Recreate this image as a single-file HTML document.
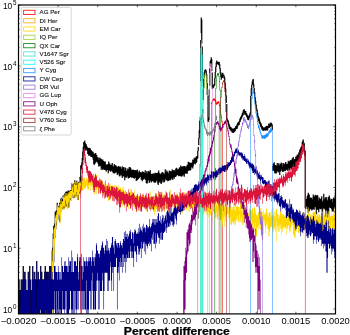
<!DOCTYPE html>
<html><head><meta charset="utf-8"><style>
html,body{margin:0;padding:0;background:#fff;}
body{width:350px;height:335px;overflow:hidden;}
svg{display:block;font-family:"Liberation Sans",sans-serif;}
text{will-change:transform;}
</style></head><body>
<svg width="350" height="335" viewBox="0 0 350 335">
<rect width="350" height="335" fill="#fff"/>
<defs><clipPath id="ax"><rect x="18.5" y="5" width="317" height="308.9"/></clipPath></defs>
<g clip-path="url(#ax)" fill="none">
<path fill="#000000" d="M18.15 279.4h1.2V315.0h-1.2zM18.65 290.1h1.2V315.0h-1.2zM19.15 290.1h1.2V315.0h-1.2zM19.65 290.1h1.2V315.0h-1.2zM20.15 308.4h1.2V315.0h-1.2zM20.65 279.4h1.2V315.0h-1.2zM21.15 290.1h1.2V315.0h-1.2zM21.65 290.1h1.2V315.0h-1.2zM22.15 279.4h1.2V315.0h-1.2zM22.65 265.9h1.2V315.0h-1.2zM23.15 290.1h1.2V315.0h-1.2zM23.65 279.4h1.2V315.0h-1.2zM24.15 271.8h1.2V315.0h-1.2zM24.65 279.4h1.2V315.0h-1.2zM25.15 279.4h1.2V309.6h-1.2zM25.65 290.1h1.2V315.0h-1.2zM26.15 308.4h1.2V315.0h-1.2zM26.65 290.1h1.2V315.0h-1.2zM27.15 290.1h1.2V315.0h-1.2zM27.65 271.8h1.2V315.0h-1.2zM28.15 279.4h1.2V309.6h-1.2zM28.65 279.4h1.2V315.0h-1.2zM29.15 265.9h1.2V315.0h-1.2zM29.65 279.4h1.2V309.6h-1.2zM30.15 308.4h1.2V315.0h-1.2zM30.65 290.1h1.2V315.0h-1.2zM31.15 290.1h1.2V315.0h-1.2zM31.65 279.4h1.2V309.6h-1.2zM32.15 265.9h1.2V315.0h-1.2zM32.65 279.4h1.2V315.0h-1.2zM33.15 279.4h1.2V315.0h-1.2zM33.65 279.4h1.2V315.0h-1.2zM34.15 271.8h1.2V315.0h-1.2zM34.65 308.4h1.2V315.0h-1.2zM35.15 279.4h1.2V315.0h-1.2zM35.65 308.4h1.2V315.0h-1.2zM36.15 261.1h1.2V309.6h-1.2zM36.65 279.4h1.2V309.6h-1.2zM37.15 290.1h1.2V315.0h-1.2zM37.65 271.8h1.2V315.0h-1.2zM38.15 279.4h1.2V315.0h-1.2zM38.65 279.4h1.2V315.0h-1.2zM39.15 279.4h1.2V309.6h-1.2zM39.65 290.1h1.2V309.6h-1.2zM40.15 265.9h1.2V309.6h-1.2zM40.65 279.4h1.2V315.0h-1.2zM41.15 271.8h1.2V309.6h-1.2zM41.65 279.4h1.2V315.0h-1.2zM42.15 279.4h1.2V315.0h-1.2zM42.65 279.4h1.2V315.0h-1.2zM43.15 279.4h1.2V309.6h-1.2zM43.65 279.4h1.2V315.0h-1.2zM44.15 271.8h1.2V315.0h-1.2zM44.65 265.9h1.2V309.6h-1.2zM45.15 271.8h1.2V309.6h-1.2zM45.65 271.8h1.2V315.0h-1.2zM46.15 279.4h1.2V309.6h-1.2zM46.65 271.8h1.2V309.6h-1.2zM47.15 271.8h1.2V315.0h-1.2zM47.65 271.8h1.2V315.0h-1.2zM48.15 279.4h1.2V309.6h-1.2zM48.65 279.4h1.2V315.0h-1.2zM49.15 265.9h1.2V309.6h-1.2zM49.65 271.8h1.2V315.0h-1.2zM50.15 265.9h1.2V309.6h-1.2zM50.65 279.4h1.2V315.0h-1.2zM51.15 290.1h1.2V315.0h-1.2zM51.65 250.4h1.2V309.6h-1.2zM52.15 247.6h1.2V267.1h-1.2zM52.65 233.6h1.2V251.6h-1.2zM53.15 225.7h1.2V262.3h-1.2zM53.65 225.7h1.2V236.4h-1.2zM54.15 223.5h1.2V238.1h-1.2zM54.65 211.7h1.2V226.9h-1.2zM55.15 215.3h1.2V229.3h-1.2zM55.65 210.4h1.2V225.7h-1.2zM56.15 211.7h1.2V220.7h-1.2zM56.65 202.7h1.2V216.5h-1.2zM57.15 206.2h1.2V219.9h-1.2zM57.65 206.2h1.2V212.3h-1.2zM58.15 205.7h1.2V214.3h-1.2zM58.65 207.4h1.2V214.3h-1.2zM59.15 203.1h1.2V221.7h-1.2zM59.65 202.2h1.2V216.5h-1.2zM60.15 199.5h1.2V212.3h-1.2zM60.65 197.8h1.2V211.0h-1.2zM61.15 202.7h1.2V208.0h-1.2zM61.65 199.5h1.2V205.8h-1.2zM62.15 199.1h1.2V209.2h-1.2zM62.65 195.2h1.2V207.4h-1.2zM63.15 196.3h1.2V205.3h-1.2zM63.65 196.7h1.2V208.6h-1.2zM64.15 193.4h1.2V204.8h-1.2zM64.65 195.2h1.2V199.9h-1.2zM65.15 191.8h1.2V206.4h-1.2zM65.65 194.8h1.2V206.4h-1.2zM66.15 191.5h1.2V202.0h-1.2zM66.65 194.8h1.2V206.9h-1.2zM67.15 191.5h1.2V207.4h-1.2zM67.65 190.6h1.2V198.6h-1.2zM68.15 192.1h1.2V207.4h-1.2zM68.65 191.5h1.2V197.1h-1.2zM69.15 192.1h1.2V198.6h-1.2zM69.65 190.0h1.2V196.4h-1.2zM70.15 190.3h1.2V199.9h-1.2zM70.65 190.6h1.2V200.3h-1.2zM71.15 183.4h1.2V196.0h-1.2zM71.65 187.1h1.2V195.0h-1.2zM72.15 186.1h1.2V194.3h-1.2zM72.65 184.4h1.2V197.9h-1.2zM73.15 190.9h1.2V195.0h-1.2zM73.65 183.0h1.2V197.9h-1.2zM74.15 180.2h1.2V193.0h-1.2zM74.65 183.9h1.2V193.3h-1.2zM75.15 183.7h1.2V196.4h-1.2zM75.65 184.4h1.2V192.7h-1.2zM76.15 180.8h1.2V191.5h-1.2zM76.65 183.2h1.2V195.7h-1.2zM77.15 188.0h1.2V195.3h-1.2zM77.65 182.5h1.2V199.9h-1.2zM78.15 182.5h1.2V194.6h-1.2zM78.65 181.4h1.2V190.9h-1.2zM79.15 177.3h1.2V190.9h-1.2zM79.65 181.4h1.2V192.7h-1.2zM80.15 165.2h1.2V188.6h-1.2zM80.65 165.4h1.2V169.5h-1.2zM81.15 162.4h1.2V168.0h-1.2zM81.65 157.9h1.2V165.9h-1.2zM82.15 151.4h1.2V160.3h-1.2zM82.65 146.9h1.2V155.7h-1.2zM83.15 142.1h1.2V151.2h-1.2zM83.65 142.7h1.2V147.1h-1.2zM84.15 140.5h1.2V148.3h-1.2zM84.65 143.0h1.2V150.8h-1.2zM85.15 144.4h1.2V147.6h-1.2zM85.65 144.3h1.2V149.3h-1.2zM86.15 145.9h1.2V150.3h-1.2zM86.65 147.2h1.2V150.7h-1.2zM87.15 148.1h1.2V154.1h-1.2zM87.65 149.5h1.2V152.6h-1.2zM88.15 148.1h1.2V155.8h-1.2zM88.65 147.8h1.2V155.7h-1.2zM89.15 149.5h1.2V153.1h-1.2zM89.65 148.2h1.2V154.8h-1.2zM90.15 151.2h1.2V156.7h-1.2zM90.65 149.9h1.2V154.9h-1.2zM91.15 151.3h1.2V157.1h-1.2zM91.65 152.6h1.2V156.2h-1.2zM92.15 151.6h1.2V157.8h-1.2zM92.65 152.3h1.2V159.7h-1.2zM93.15 156.1h1.2V163.9h-1.2zM93.65 153.8h1.2V164.9h-1.2zM94.15 154.7h1.2V158.4h-1.2zM94.65 153.4h1.2V163.4h-1.2zM95.15 152.9h1.2V160.4h-1.2zM95.65 155.1h1.2V161.7h-1.2zM96.15 154.9h1.2V161.8h-1.2zM96.65 157.2h1.2V162.6h-1.2zM97.15 157.5h1.2V161.7h-1.2zM97.65 157.5h1.2V163.9h-1.2zM98.15 160.8h1.2V166.4h-1.2zM98.65 160.1h1.2V164.5h-1.2zM99.15 157.5h1.2V166.3h-1.2zM99.65 158.2h1.2V163.9h-1.2zM100.15 158.7h1.2V165.6h-1.2zM100.65 159.0h1.2V169.7h-1.2zM101.15 159.7h1.2V164.8h-1.2zM101.65 161.2h1.2V167.8h-1.2zM102.15 159.6h1.2V169.9h-1.2zM102.65 161.3h1.2V169.0h-1.2zM103.15 161.1h1.2V166.6h-1.2zM103.65 162.0h1.2V169.4h-1.2zM104.15 164.8h1.2V169.9h-1.2zM104.65 161.4h1.2V169.8h-1.2zM105.15 165.4h1.2V170.2h-1.2zM105.65 164.8h1.2V171.6h-1.2zM106.15 164.4h1.2V169.4h-1.2zM106.65 164.2h1.2V169.9h-1.2zM107.15 164.2h1.2V168.5h-1.2zM107.65 164.7h1.2V173.2h-1.2zM108.15 161.5h1.2V170.1h-1.2zM108.65 165.2h1.2V170.5h-1.2zM109.15 163.5h1.2V170.1h-1.2zM109.65 166.2h1.2V171.4h-1.2zM110.15 164.8h1.2V171.8h-1.2zM110.65 164.8h1.2V170.5h-1.2zM111.15 164.7h1.2V168.9h-1.2zM111.65 162.9h1.2V171.0h-1.2zM112.15 166.9h1.2V172.0h-1.2zM112.65 166.3h1.2V173.3h-1.2zM113.15 166.7h1.2V172.4h-1.2zM113.65 164.0h1.2V173.6h-1.2zM114.15 165.6h1.2V173.2h-1.2zM114.65 166.9h1.2V171.4h-1.2zM115.15 165.0h1.2V172.7h-1.2zM115.65 166.2h1.2V170.2h-1.2zM116.15 166.8h1.2V171.7h-1.2zM116.65 167.2h1.2V175.0h-1.2zM117.15 167.2h1.2V173.9h-1.2zM117.65 166.0h1.2V173.5h-1.2zM118.15 167.4h1.2V172.6h-1.2zM118.65 166.6h1.2V175.7h-1.2zM119.15 171.5h1.2V176.5h-1.2zM119.65 166.6h1.2V175.5h-1.2zM120.15 167.6h1.2V174.2h-1.2zM120.65 170.4h1.2V174.2h-1.2zM121.15 169.0h1.2V175.7h-1.2zM121.65 166.3h1.2V178.1h-1.2zM122.15 167.7h1.2V174.2h-1.2zM122.65 167.7h1.2V176.2h-1.2zM123.15 166.9h1.2V176.5h-1.2zM123.65 170.4h1.2V176.0h-1.2zM124.15 170.9h1.2V180.2h-1.2zM124.65 167.6h1.2V177.2h-1.2zM125.15 168.1h1.2V177.2h-1.2zM125.65 171.5h1.2V177.7h-1.2zM126.15 170.8h1.2V177.2h-1.2zM126.65 170.4h1.2V175.7h-1.2zM127.15 168.6h1.2V175.8h-1.2zM127.65 169.9h1.2V178.6h-1.2zM128.15 169.3h1.2V177.9h-1.2zM128.65 166.9h1.2V177.9h-1.2zM129.15 171.2h1.2V177.2h-1.2zM129.65 167.3h1.2V176.9h-1.2zM130.15 168.3h1.2V177.2h-1.2zM130.65 169.5h1.2V175.7h-1.2zM131.15 170.5h1.2V177.7h-1.2zM131.65 169.9h1.2V177.6h-1.2zM132.15 171.1h1.2V176.0h-1.2zM132.65 169.4h1.2V177.9h-1.2zM133.15 170.6h1.2V177.7h-1.2zM133.65 169.9h1.2V178.8h-1.2zM134.15 170.6h1.2V177.2h-1.2zM134.65 170.5h1.2V177.7h-1.2zM135.15 170.1h1.2V177.6h-1.2zM135.65 173.7h1.2V181.0h-1.2zM136.15 170.8h1.2V180.0h-1.2zM136.65 169.4h1.2V180.2h-1.2zM137.15 171.4h1.2V177.2h-1.2zM137.65 172.9h1.2V179.2h-1.2zM138.15 173.0h1.2V178.5h-1.2zM138.65 170.5h1.2V178.1h-1.2zM139.15 172.6h1.2V177.0h-1.2zM139.65 172.0h1.2V176.7h-1.2zM140.15 172.4h1.2V177.0h-1.2zM140.65 173.3h1.2V179.8h-1.2zM141.15 172.6h1.2V176.2h-1.2zM141.65 171.4h1.2V181.2h-1.2zM142.15 171.8h1.2V175.2h-1.2zM142.65 171.7h1.2V179.8h-1.2zM143.15 172.3h1.2V179.0h-1.2zM143.65 172.7h1.2V178.3h-1.2zM144.15 173.2h1.2V178.1h-1.2zM144.65 170.2h1.2V179.8h-1.2zM145.15 172.9h1.2V179.0h-1.2zM145.65 172.9h1.2V183.0h-1.2zM146.15 171.2h1.2V183.5h-1.2zM146.65 174.5h1.2V183.5h-1.2zM147.15 173.2h1.2V180.8h-1.2zM147.65 170.9h1.2V179.6h-1.2zM148.15 174.0h1.2V179.0h-1.2zM148.65 171.7h1.2V183.0h-1.2zM149.15 171.4h1.2V181.4h-1.2zM149.65 169.9h1.2V180.4h-1.2zM150.15 174.0h1.2V177.9h-1.2zM150.65 175.0h1.2V182.6h-1.2zM151.15 173.8h1.2V180.0h-1.2zM151.65 174.0h1.2V181.2h-1.2zM152.15 174.1h1.2V181.0h-1.2zM152.65 173.3h1.2V181.2h-1.2zM153.15 177.3h1.2V181.8h-1.2zM153.65 174.6h1.2V182.8h-1.2zM154.15 173.3h1.2V182.8h-1.2zM154.65 172.7h1.2V179.6h-1.2zM155.15 173.8h1.2V182.6h-1.2zM155.65 173.5h1.2V179.8h-1.2zM156.15 173.0h1.2V180.8h-1.2zM156.65 173.0h1.2V179.2h-1.2zM157.15 174.1h1.2V183.5h-1.2zM157.65 172.0h1.2V184.9h-1.2zM158.15 170.4h1.2V181.0h-1.2zM158.65 173.3h1.2V182.6h-1.2zM159.15 173.2h1.2V181.4h-1.2zM159.65 174.3h1.2V180.4h-1.2zM160.15 176.2h1.2V183.3h-1.2zM160.65 173.7h1.2V183.9h-1.2zM161.15 172.4h1.2V182.8h-1.2zM161.65 175.1h1.2V181.4h-1.2zM162.15 172.0h1.2V179.2h-1.2zM162.65 173.0h1.2V179.8h-1.2zM163.15 175.1h1.2V182.4h-1.2zM163.65 174.6h1.2V182.0h-1.2zM164.15 173.2h1.2V181.2h-1.2zM164.65 169.3h1.2V178.1h-1.2zM165.15 172.3h1.2V178.5h-1.2zM165.65 173.3h1.2V180.2h-1.2zM166.15 170.5h1.2V180.2h-1.2zM166.65 171.5h1.2V179.0h-1.2zM167.15 172.6h1.2V181.2h-1.2zM167.65 173.7h1.2V181.0h-1.2zM168.15 173.5h1.2V178.3h-1.2zM168.65 170.4h1.2V180.4h-1.2zM169.15 171.5h1.2V177.9h-1.2zM169.65 171.7h1.2V179.4h-1.2zM170.15 170.9h1.2V180.2h-1.2zM170.65 172.9h1.2V177.4h-1.2zM171.15 171.4h1.2V178.6h-1.2zM171.65 169.3h1.2V178.6h-1.2zM172.15 170.2h1.2V180.0h-1.2zM172.65 172.3h1.2V177.6h-1.2zM173.15 170.5h1.2V176.3h-1.2zM173.65 169.9h1.2V178.8h-1.2zM174.15 172.7h1.2V176.7h-1.2zM174.65 171.2h1.2V175.8h-1.2zM175.15 168.6h1.2V176.9h-1.2zM175.65 171.8h1.2V176.0h-1.2zM176.15 167.7h1.2V175.3h-1.2zM176.65 170.6h1.2V174.9h-1.2zM177.15 169.3h1.2V172.9h-1.2zM177.65 169.8h1.2V175.2h-1.2zM178.15 169.1h1.2V176.2h-1.2zM178.65 168.3h1.2V175.8h-1.2zM179.15 167.2h1.2V173.2h-1.2zM179.65 167.9h1.2V176.2h-1.2zM180.15 165.6h1.2V174.1h-1.2zM180.65 166.9h1.2V175.7h-1.2zM181.15 167.1h1.2V176.7h-1.2zM181.65 166.3h1.2V174.2h-1.2zM182.15 167.1h1.2V175.7h-1.2zM182.65 169.1h1.2V172.7h-1.2zM183.15 166.0h1.2V174.4h-1.2zM183.65 169.5h1.2V176.7h-1.2zM184.15 166.1h1.2V173.3h-1.2zM184.65 167.9h1.2V173.5h-1.2zM185.15 167.3h1.2V173.8h-1.2zM185.65 166.6h1.2V173.5h-1.2zM186.15 166.2h1.2V171.6h-1.2zM186.65 164.8h1.2V173.8h-1.2zM187.15 166.9h1.2V170.9h-1.2zM187.65 161.7h1.2V171.1h-1.2zM188.15 162.5h1.2V168.5h-1.2zM188.65 162.2h1.2V170.5h-1.2zM189.15 163.8h1.2V170.6h-1.2zM189.65 162.7h1.2V167.9h-1.2zM190.15 163.9h1.2V170.3h-1.2zM190.65 162.9h1.2V167.5h-1.2zM191.15 162.4h1.2V167.3h-1.2zM191.65 163.6h1.2V166.8h-1.2zM192.15 159.6h1.2V168.4h-1.2zM192.65 159.9h1.2V166.3h-1.2zM193.15 160.1h1.2V163.7h-1.2zM193.65 157.8h1.2V163.6h-1.2zM194.15 158.7h1.2V163.4h-1.2zM194.65 158.2h1.2V164.4h-1.2zM195.15 157.5h1.2V162.3h-1.2zM195.65 156.4h1.2V163.1h-1.2zM196.15 156.2h1.2V162.1h-1.2zM196.65 156.0h1.2V159.0h-1.2zM197.15 150.7h1.2V158.3h-1.2zM197.65 146.9h1.2V150.8h-1.2zM198.15 137.9h1.2V145.2h-1.2zM198.65 130.2h1.2V138.6h-1.2zM199.15 120.7h1.2V132.8h-1.2zM199.65 116.7h1.2V132.9h-1.2zM200.15 40.0h1.2V81.3h-1.2zM200.65 17.6h1.2V33.3h-1.2zM201.15 19.6h1.2V43.7h-1.2zM201.65 46.5h1.2V81.2h-1.2zM202.15 109.0h1.2V112.9h-1.2zM202.65 88.7h1.2V100.1h-1.2zM203.15 78.4h1.2V88.4h-1.2zM203.65 72.3h1.2V78.0h-1.2zM204.15 70.0h1.2V72.9h-1.2zM204.65 69.7h1.2V71.4h-1.2zM205.15 69.3h1.2V71.4h-1.2zM205.65 70.7h1.2V74.4h-1.2zM206.15 74.3h1.2V82.7h-1.2zM206.65 82.9h1.2V94.9h-1.2zM207.15 95.6h1.2V121.2h-1.2zM207.65 117.9h1.2V122.1h-1.2zM208.15 117.2h1.2V120.2h-1.2zM208.65 89.4h1.2V120.3h-1.2zM209.15 68.2h1.2V85.8h-1.2zM209.65 60.9h1.2V66.7h-1.2zM210.15 60.0h1.2V61.8h-1.2zM210.65 57.2h1.2V62.9h-1.2zM211.15 59.3h1.2V70.9h-1.2zM211.65 72.4h1.2V88.8h-1.2zM212.15 86.6h1.2V88.7h-1.2zM212.65 85.6h1.2V87.8h-1.2zM213.15 84.4h1.2V87.4h-1.2zM213.65 83.9h1.2V86.1h-1.2zM214.15 78.1h1.2V85.2h-1.2zM214.65 72.0h1.2V78.3h-1.2zM215.15 66.6h1.2V72.3h-1.2zM215.65 62.4h1.2V66.9h-1.2zM216.15 60.4h1.2V62.8h-1.2zM216.65 62.0h1.2V64.5h-1.2zM217.15 61.8h1.2V63.5h-1.2zM217.65 61.8h1.2V63.9h-1.2zM218.15 61.8h1.2V65.2h-1.2zM218.65 62.0h1.2V65.6h-1.2zM219.15 64.3h1.2V68.7h-1.2zM219.65 68.3h1.2V73.5h-1.2zM220.15 72.6h1.2V76.8h-1.2zM220.65 76.5h1.2V79.8h-1.2zM221.15 74.9h1.2V77.8h-1.2zM221.65 72.7h1.2V75.5h-1.2zM222.15 72.8h1.2V77.9h-1.2zM222.65 74.5h1.2V76.5h-1.2zM223.15 74.4h1.2V76.4h-1.2zM223.65 76.0h1.2V79.0h-1.2zM224.15 77.8h1.2V83.6h-1.2zM224.65 82.7h1.2V88.9h-1.2zM225.15 88.5h1.2V96.3h-1.2zM225.65 95.6h1.2V103.1h-1.2zM226.15 104.1h1.2V120.4h-1.2zM226.65 118.4h1.2V121.2h-1.2zM227.15 120.1h1.2V122.5h-1.2zM227.65 120.6h1.2V124.7h-1.2zM228.15 122.8h1.2V126.4h-1.2zM228.65 124.6h1.2V129.0h-1.2zM229.15 125.4h1.2V128.9h-1.2zM229.65 126.9h1.2V130.6h-1.2zM230.15 127.0h1.2V130.5h-1.2zM230.65 127.6h1.2V131.5h-1.2zM231.15 128.2h1.2V131.4h-1.2zM231.65 129.0h1.2V132.8h-1.2zM232.15 128.6h1.2V132.2h-1.2zM232.65 129.2h1.2V132.9h-1.2zM233.15 128.6h1.2V131.6h-1.2zM233.65 128.4h1.2V132.3h-1.2zM234.15 128.1h1.2V131.5h-1.2zM234.65 127.6h1.2V131.1h-1.2zM235.15 125.9h1.2V129.5h-1.2zM235.65 126.7h1.2V129.1h-1.2zM236.15 125.3h1.2V128.6h-1.2zM236.65 123.7h1.2V128.8h-1.2zM237.15 122.8h1.2V126.5h-1.2zM237.65 122.6h1.2V125.0h-1.2zM238.15 121.8h1.2V125.3h-1.2zM238.65 121.2h1.2V124.8h-1.2zM239.15 119.3h1.2V121.9h-1.2zM239.65 118.1h1.2V121.8h-1.2zM240.15 116.7h1.2V120.1h-1.2zM240.65 116.2h1.2V118.9h-1.2zM241.15 114.9h1.2V118.0h-1.2zM241.65 113.2h1.2V116.8h-1.2zM242.15 112.4h1.2V115.4h-1.2zM242.65 110.6h1.2V115.2h-1.2zM243.15 109.5h1.2V112.2h-1.2zM243.65 109.3h1.2V112.6h-1.2zM244.15 110.8h1.2V114.7h-1.2zM244.65 111.6h1.2V114.8h-1.2zM245.15 111.1h1.2V114.4h-1.2zM245.65 113.1h1.2V115.8h-1.2zM246.15 113.6h1.2V117.0h-1.2zM246.65 114.9h1.2V118.3h-1.2zM247.15 115.3h1.2V119.7h-1.2zM247.65 117.4h1.2V120.2h-1.2zM248.15 116.3h1.2V120.2h-1.2zM248.65 115.5h1.2V118.3h-1.2zM249.15 113.4h1.2V117.3h-1.2zM249.65 112.4h1.2V115.7h-1.2zM250.15 96.0h1.2V113.2h-1.2zM250.65 88.6h1.2V96.1h-1.2zM251.15 84.7h1.2V89.8h-1.2zM251.65 81.4h1.2V85.0h-1.2zM252.15 79.7h1.2V82.7h-1.2zM252.65 79.1h1.2V84.4h-1.2zM253.15 83.7h1.2V87.8h-1.2zM253.65 87.9h1.2V92.4h-1.2zM254.15 92.3h1.2V97.7h-1.2zM254.65 97.2h1.2V102.0h-1.2zM255.15 100.9h1.2V106.2h-1.2zM255.65 104.6h1.2V108.4h-1.2zM256.15 108.2h1.2V111.3h-1.2zM256.65 110.1h1.2V115.2h-1.2zM257.15 113.2h1.2V117.7h-1.2zM257.65 116.1h1.2V120.4h-1.2zM258.15 117.6h1.2V120.9h-1.2zM258.65 118.4h1.2V123.2h-1.2zM259.15 120.4h1.2V124.0h-1.2zM259.65 121.9h1.2V125.7h-1.2zM260.15 124.5h1.2V127.2h-1.2zM260.65 123.4h1.2V127.2h-1.2zM261.15 125.8h1.2V129.4h-1.2zM261.65 125.9h1.2V129.4h-1.2zM262.15 127.0h1.2V130.4h-1.2zM262.65 127.5h1.2V130.9h-1.2zM263.15 127.4h1.2V130.4h-1.2zM263.65 127.5h1.2V130.5h-1.2zM264.15 127.4h1.2V129.6h-1.2zM264.65 127.0h1.2V130.8h-1.2zM265.15 126.7h1.2V130.5h-1.2zM265.65 126.1h1.2V130.0h-1.2zM266.15 126.4h1.2V129.8h-1.2zM266.65 125.8h1.2V130.8h-1.2zM267.15 126.5h1.2V129.7h-1.2zM267.65 125.9h1.2V128.3h-1.2zM268.15 123.5h1.2V127.4h-1.2zM268.65 125.0h1.2V128.0h-1.2zM269.15 123.4h1.2V126.8h-1.2zM269.65 123.4h1.2V127.2h-1.2zM270.15 122.5h1.2V126.7h-1.2zM270.65 122.7h1.2V125.5h-1.2zM271.15 123.7h1.2V125.8h-1.2zM271.65 124.6h1.2V129.9h-1.2zM272.15 166.1h1.2V170.3h-1.2zM272.65 163.6h1.2V171.0h-1.2zM273.15 165.2h1.2V170.5h-1.2zM273.65 162.3h1.2V169.3h-1.2zM274.15 166.1h1.2V173.0h-1.2zM274.65 164.9h1.2V173.6h-1.2zM275.15 164.9h1.2V171.4h-1.2zM275.65 166.0h1.2V173.5h-1.2zM276.15 166.0h1.2V170.5h-1.2zM276.65 163.0h1.2V171.4h-1.2zM277.15 165.8h1.2V170.2h-1.2zM277.65 165.6h1.2V172.6h-1.2zM278.15 163.2h1.2V171.4h-1.2zM278.65 165.5h1.2V171.3h-1.2zM279.15 165.4h1.2V174.9h-1.2zM279.65 163.8h1.2V169.7h-1.2zM280.15 165.0h1.2V171.6h-1.2zM280.65 162.4h1.2V169.3h-1.2zM281.15 163.6h1.2V168.6h-1.2zM281.65 166.3h1.2V170.9h-1.2zM282.15 166.4h1.2V172.0h-1.2zM282.65 163.1h1.2V170.6h-1.2zM283.15 164.1h1.2V171.6h-1.2zM283.65 164.4h1.2V168.9h-1.2zM284.15 165.8h1.2V170.5h-1.2zM284.65 162.9h1.2V170.9h-1.2zM285.15 161.9h1.2V170.1h-1.2zM285.65 163.9h1.2V169.9h-1.2zM286.15 164.2h1.2V169.5h-1.2zM286.65 163.7h1.2V169.1h-1.2zM287.15 163.9h1.2V171.0h-1.2zM287.65 160.8h1.2V167.4h-1.2zM288.15 162.3h1.2V168.4h-1.2zM288.65 163.3h1.2V170.5h-1.2zM289.15 160.7h1.2V168.6h-1.2zM289.65 162.5h1.2V167.8h-1.2zM290.15 160.1h1.2V167.6h-1.2zM290.65 160.2h1.2V169.5h-1.2zM291.15 163.2h1.2V169.1h-1.2zM291.65 158.2h1.2V167.4h-1.2zM292.15 160.6h1.2V167.4h-1.2zM292.65 157.0h1.2V166.6h-1.2zM293.15 159.7h1.2V165.2h-1.2zM293.65 159.4h1.2V167.0h-1.2zM294.15 159.1h1.2V166.3h-1.2zM294.65 162.2h1.2V169.3h-1.2zM295.15 156.7h1.2V163.9h-1.2zM295.65 156.6h1.2V164.5h-1.2zM296.15 156.3h1.2V163.8h-1.2zM296.65 154.4h1.2V163.3h-1.2zM297.15 158.3h1.2V161.7h-1.2zM297.65 155.5h1.2V161.6h-1.2zM298.15 152.6h1.2V159.1h-1.2zM298.65 152.5h1.2V160.0h-1.2zM299.15 149.6h1.2V157.9h-1.2zM299.65 150.2h1.2V157.2h-1.2zM300.15 147.6h1.2V157.6h-1.2zM300.65 147.2h1.2V154.4h-1.2zM301.15 145.7h1.2V154.1h-1.2zM301.65 141.9h1.2V150.7h-1.2zM302.15 140.8h1.2V150.0h-1.2zM302.65 139.4h1.2V148.0h-1.2zM303.15 142.4h1.2V149.7h-1.2zM303.65 143.3h1.2V150.0h-1.2zM304.15 149.5h1.2V156.2h-1.2zM304.65 150.9h1.2V208.0h-1.2zM305.15 198.7h1.2V209.2h-1.2zM305.65 199.1h1.2V206.9h-1.2zM306.15 200.4h1.2V205.8h-1.2zM306.65 196.3h1.2V203.9h-1.2zM307.15 195.2h1.2V209.2h-1.2zM307.65 192.8h1.2V212.9h-1.2zM308.15 197.1h1.2V211.6h-1.2zM308.65 194.5h1.2V211.0h-1.2zM309.15 198.2h1.2V209.2h-1.2zM309.65 200.4h1.2V209.2h-1.2zM310.15 197.4h1.2V203.9h-1.2zM310.65 199.9h1.2V209.2h-1.2zM311.15 197.8h1.2V210.4h-1.2zM311.65 199.5h1.2V209.7h-1.2zM312.15 201.3h1.2V209.2h-1.2zM312.65 194.5h1.2V209.2h-1.2zM313.15 197.1h1.2V207.4h-1.2zM313.65 196.3h1.2V209.7h-1.2zM314.15 199.9h1.2V205.8h-1.2zM314.65 194.8h1.2V206.9h-1.2zM315.15 195.2h1.2V208.6h-1.2zM315.65 202.2h1.2V214.3h-1.2zM316.15 195.2h1.2V208.6h-1.2zM316.65 200.8h1.2V209.7h-1.2zM317.15 195.2h1.2V208.0h-1.2zM317.65 200.4h1.2V209.7h-1.2zM318.15 200.4h1.2V212.3h-1.2zM318.65 197.4h1.2V208.6h-1.2zM319.15 200.8h1.2V206.4h-1.2zM319.65 199.1h1.2V209.2h-1.2zM320.15 199.1h1.2V209.2h-1.2zM320.65 198.2h1.2V208.0h-1.2zM321.15 196.3h1.2V208.6h-1.2zM321.65 201.7h1.2V212.3h-1.2zM322.15 201.7h1.2V209.2h-1.2zM322.65 200.4h1.2V209.7h-1.2zM323.15 193.8h1.2V208.6h-1.2zM323.65 199.5h1.2V207.4h-1.2zM324.15 199.9h1.2V209.2h-1.2zM324.65 197.4h1.2V206.9h-1.2zM325.15 200.4h1.2V217.3h-1.2zM325.65 197.1h1.2V205.3h-1.2zM326.15 199.5h1.2V210.4h-1.2zM326.65 200.4h1.2V206.4h-1.2zM327.15 201.3h1.2V218.1h-1.2zM327.65 197.1h1.2V208.0h-1.2zM328.15 200.8h1.2V214.3h-1.2zM328.65 195.5h1.2V205.3h-1.2zM329.15 197.8h1.2V207.4h-1.2zM329.65 199.5h1.2V208.0h-1.2zM330.15 199.5h1.2V208.0h-1.2zM330.65 200.8h1.2V208.6h-1.2zM331.15 198.7h1.2V209.2h-1.2zM331.65 202.2h1.2V211.6h-1.2zM332.15 202.2h1.2V209.2h-1.2zM332.65 198.7h1.2V211.6h-1.2zM333.15 197.4h1.2V209.2h-1.2zM333.65 198.7h1.2V206.9h-1.2zM334.15 199.1h1.2V206.4h-1.2zM334.65 194.8h1.2V208.0h-1.2z"/>
<path fill="#ff0000" d="M210.95 102.7h.6V104.4h-.6zM211.45 101.7h.6V103.8h-.6zM211.95 100.3h.6V103.0h-.6zM212.45 99.2h.6V101.2h-.6zM212.95 98.7h.6V101.0h-.6zM213.45 98.2h.6V100.3h-.6zM213.95 98.2h.6V100.7h-.6zM214.45 98.5h.6V100.7h-.6zM214.95 99.2h.6V101.8h-.6zM215.45 100.3h.6V103.9h-.6zM215.95 101.2h.6V104.4h-.6zM216.45 103.0h.6V105.1h-.6zM216.95 102.0h.6V104.2h-.6zM217.45 101.5h.6V103.8h-.6zM217.95 101.6h.6V103.8h-.6zM218.45 101.2h.6V103.3h-.6zM218.95 102.5h.6V106.0h-.6zM219.45 104.5h.6V108.7h-.6zM219.95 107.9h.6V112.4h-.6zM220.45 111.6h.6V116.1h-.6zM220.95 114.4h.6V117.9h-.6zM221.45 117.1h.6V122.4h-.6zM221.95 120.5h.6V125.7h-.6zM222.45 123.7h.6V125.7h-.6zM211.03 104.0h0.55V315.0h-0.55zM222.32 124.1h0.55V315.0h-0.55z"/>
<path fill="#ffa500" d="M200.45 81.9h.6V82.7h-.6zM200.95 44.3h.6V82.7h-.6zM201.45 44.3h.6V87.9h-.6zM200.62 82.3h0.55V315.0h-0.55zM201.62 87.5h0.55V315.0h-0.55z"/>
<path fill="#ffd700" d="M51.95 261.3h.6V262.1h-.6zM52.45 250.6h.6V291.1h-.6zM52.95 239.0h.6V272.8h-.6zM53.45 229.5h.6V262.1h-.6zM53.95 228.3h.6V254.5h-.6zM54.45 227.0h.6V243.8h-.6zM54.95 215.5h.6V236.2h-.6zM55.45 218.0h.6V230.3h-.6zM55.95 211.9h.6V227.8h-.6zM56.45 214.8h.6V221.5h-.6zM56.95 204.3h.6V220.5h-.6zM57.45 206.4h.6V221.5h-.6zM57.95 207.6h.6V214.1h-.6zM58.45 206.4h.6V214.8h-.6zM58.95 207.6h.6V215.6h-.6zM59.45 204.3h.6V223.4h-.6zM59.95 204.3h.6V223.4h-.6zM60.45 200.6h.6V217.9h-.6zM60.95 198.4h.6V212.1h-.6zM61.45 204.3h.6V212.1h-.6zM61.95 201.0h.6V207.2h-.6zM62.45 201.5h.6V209.5h-.6zM62.95 195.7h.6V209.5h-.6zM63.45 197.3h.6V206.2h-.6zM63.95 197.3h.6V209.5h-.6zM64.45 194.7h.6V206.2h-.6zM64.95 196.1h.6V200.5h-.6zM65.45 193.0h.6V207.8h-.6zM65.95 195.7h.6V208.4h-.6zM66.45 193.0h.6V204.1h-.6zM66.95 195.4h.6V208.4h-.6zM67.45 193.3h.6V209.0h-.6zM67.95 192.0h.6V202.3h-.6zM68.45 194.0h.6V207.8h-.6zM68.95 192.3h.6V198.4h-.6zM69.45 192.3h.6V199.2h-.6zM69.95 190.8h.6V198.1h-.6zM70.45 191.1h.6V201.4h-.6zM70.95 191.1h.6V200.9h-.6zM71.45 184.1h.6V200.9h-.6zM71.95 185.8h.6V196.2h-.6zM72.45 187.3h.6V194.8h-.6zM72.95 185.0h.6V199.2h-.6zM73.45 192.3h.6V196.5h-.6zM73.95 183.9h.6V198.4h-.6zM74.45 181.4h.6V194.8h-.6zM74.95 184.8h.6V194.8h-.6zM75.45 184.6h.6V198.1h-.6zM75.95 185.0h.6V198.1h-.6zM76.45 181.6h.6V191.9h-.6zM76.95 181.6h.6V195.8h-.6zM77.45 189.6h.6V195.8h-.6zM77.95 183.6h.6V200.5h-.6zM78.45 182.9h.6V195.1h-.6zM78.95 182.7h.6V191.9h-.6zM79.45 178.2h.6V191.3h-.6zM79.95 183.2h.6V193.8h-.6zM80.45 181.8h.6V189.8h-.6zM80.95 180.6h.6V189.8h-.6zM81.45 181.2h.6V192.5h-.6zM81.95 182.0h.6V190.1h-.6zM82.45 177.8h.6V190.7h-.6zM82.95 177.8h.6V190.4h-.6zM83.45 179.2h.6V187.6h-.6zM83.95 177.6h.6V188.4h-.6zM84.45 177.8h.6V188.4h-.6zM84.95 181.6h.6V188.7h-.6zM85.45 179.0h.6V187.4h-.6zM85.95 179.4h.6V185.6h-.6zM86.45 177.5h.6V186.1h-.6zM86.95 179.4h.6V187.4h-.6zM87.45 178.8h.6V189.5h-.6zM87.95 178.0h.6V189.5h-.6zM88.45 178.8h.6V189.5h-.6zM88.95 176.7h.6V184.4h-.6zM89.45 177.8h.6V185.6h-.6zM89.95 176.4h.6V184.9h-.6zM90.45 179.6h.6V191.0h-.6zM90.95 174.8h.6V187.1h-.6zM91.45 178.4h.6V185.4h-.6zM91.95 178.4h.6V184.9h-.6zM92.45 179.0h.6V190.1h-.6zM92.95 181.6h.6V190.1h-.6zM93.45 181.6h.6V191.9h-.6zM93.95 181.4h.6V195.1h-.6zM94.45 175.2h.6V188.7h-.6zM94.95 174.2h.6V193.8h-.6zM95.45 179.2h.6V187.6h-.6zM95.95 174.7h.6V189.8h-.6zM96.45 174.7h.6V194.1h-.6zM96.95 181.0h.6V189.5h-.6zM97.45 180.2h.6V187.6h-.6zM97.95 180.4h.6V189.8h-.6zM98.45 183.9h.6V192.8h-.6zM98.95 180.6h.6V192.5h-.6zM99.45 176.9h.6V192.5h-.6zM99.95 179.6h.6V187.1h-.6zM100.45 180.8h.6V192.2h-.6zM100.95 182.0h.6V193.1h-.6zM101.45 180.4h.6V189.8h-.6zM101.95 181.2h.6V189.2h-.6zM102.45 181.2h.6V193.8h-.6zM102.95 183.9h.6V192.8h-.6zM103.45 183.9h.6V189.0h-.6zM103.95 183.2h.6V194.8h-.6zM104.45 185.0h.6V191.0h-.6zM104.95 186.3h.6V195.1h-.6zM105.45 186.6h.6V195.1h-.6zM105.95 186.0h.6V194.8h-.6zM106.45 184.8h.6V194.8h-.6zM106.95 184.3h.6V191.3h-.6zM107.45 185.8h.6V192.8h-.6zM107.95 185.0h.6V200.9h-.6zM108.45 188.4h.6V200.9h-.6zM108.95 184.1h.6V197.7h-.6zM109.45 185.3h.6V193.1h-.6zM109.95 186.6h.6V196.5h-.6zM110.45 184.1h.6V196.5h-.6zM110.95 185.8h.6V198.1h-.6zM111.45 186.0h.6V196.2h-.6zM111.95 185.5h.6V200.1h-.6zM112.45 185.5h.6V195.8h-.6zM112.95 186.6h.6V197.3h-.6zM113.45 186.0h.6V193.4h-.6zM113.95 185.0h.6V195.1h-.6zM114.45 190.5h.6V197.3h-.6zM114.95 188.2h.6V194.4h-.6zM115.45 185.0h.6V198.1h-.6zM115.95 186.0h.6V196.2h-.6zM116.45 186.6h.6V196.2h-.6zM116.95 186.6h.6V195.1h-.6zM117.45 186.6h.6V200.1h-.6zM117.95 185.8h.6V194.4h-.6zM118.45 188.2h.6V200.1h-.6zM118.95 189.9h.6V202.7h-.6zM119.45 190.8h.6V203.7h-.6zM119.95 188.2h.6V207.2h-.6zM120.45 187.3h.6V200.9h-.6zM120.95 190.5h.6V201.8h-.6zM121.45 191.7h.6V202.7h-.6zM121.95 189.3h.6V206.2h-.6zM122.45 187.6h.6V203.2h-.6zM122.95 191.7h.6V203.2h-.6zM123.45 187.1h.6V203.7h-.6zM123.95 191.4h.6V203.7h-.6zM124.45 191.4h.6V207.8h-.6zM124.95 190.5h.6V200.5h-.6zM125.45 189.6h.6V204.1h-.6zM125.95 194.3h.6V203.2h-.6zM126.45 194.3h.6V201.4h-.6zM126.95 194.7h.6V200.9h-.6zM127.45 192.6h.6V202.3h-.6zM127.95 194.0h.6V209.0h-.6zM128.45 194.0h.6V204.6h-.6zM128.95 192.0h.6V205.1h-.6zM129.45 194.7h.6V205.6h-.6zM129.95 192.0h.6V205.1h-.6zM130.45 188.7h.6V209.0h-.6zM130.95 189.0h.6V204.6h-.6zM131.45 190.8h.6V204.6h-.6zM131.95 194.0h.6V203.7h-.6zM132.45 193.6h.6V201.8h-.6zM132.95 192.6h.6V206.2h-.6zM133.45 195.7h.6V206.2h-.6zM133.95 190.5h.6V206.7h-.6zM134.45 195.4h.6V206.7h-.6zM134.95 199.3h.6V206.7h-.6zM135.45 196.1h.6V205.1h-.6zM135.95 196.5h.6V212.1h-.6zM136.45 195.4h.6V212.1h-.6zM136.95 193.0h.6V210.8h-.6zM137.45 196.9h.6V205.1h-.6zM137.95 195.7h.6V207.2h-.6zM138.45 196.9h.6V209.0h-.6zM138.95 195.4h.6V210.8h-.6zM139.45 196.9h.6V210.8h-.6zM139.95 195.7h.6V209.0h-.6zM140.45 194.3h.6V208.4h-.6zM140.95 200.6h.6V206.7h-.6zM141.45 197.3h.6V203.7h-.6zM141.95 195.0h.6V207.2h-.6zM142.45 194.3h.6V206.7h-.6zM142.95 193.0h.6V207.2h-.6zM143.45 198.4h.6V207.2h-.6zM143.95 196.1h.6V207.2h-.6zM144.45 197.3h.6V204.1h-.6zM144.95 196.9h.6V205.1h-.6zM145.45 195.7h.6V206.2h-.6zM145.95 199.7h.6V207.8h-.6zM146.45 198.9h.6V211.4h-.6zM146.95 196.9h.6V211.4h-.6zM147.45 197.6h.6V206.2h-.6zM147.95 194.3h.6V206.2h-.6zM148.45 197.6h.6V206.2h-.6zM148.95 192.3h.6V205.6h-.6zM149.45 194.7h.6V209.5h-.6zM149.95 191.1h.6V209.5h-.6zM150.45 198.4h.6V203.7h-.6zM150.95 198.4h.6V207.2h-.6zM151.45 197.6h.6V209.5h-.6zM151.95 197.3h.6V209.0h-.6zM152.45 198.0h.6V209.0h-.6zM152.95 196.1h.6V209.5h-.6zM153.45 197.6h.6V212.1h-.6zM153.95 195.4h.6V215.6h-.6zM154.45 198.4h.6V211.4h-.6zM154.95 195.0h.6V207.8h-.6zM155.45 197.6h.6V212.1h-.6zM155.95 193.0h.6V209.0h-.6zM156.45 196.9h.6V209.0h-.6zM156.95 195.4h.6V207.2h-.6zM157.45 198.0h.6V211.4h-.6zM157.95 200.1h.6V211.4h-.6zM158.45 192.6h.6V207.2h-.6zM158.95 200.6h.6V210.2h-.6zM159.45 197.3h.6V210.2h-.6zM159.95 197.6h.6V205.1h-.6zM160.45 201.5h.6V209.0h-.6zM160.95 198.9h.6V212.7h-.6zM161.45 200.1h.6V209.0h-.6zM161.95 199.3h.6V206.2h-.6zM162.45 192.6h.6V206.2h-.6zM162.95 197.6h.6V210.8h-.6zM163.45 196.1h.6V206.7h-.6zM163.95 201.0h.6V212.1h-.6zM164.45 195.0h.6V207.8h-.6zM164.95 190.8h.6V206.2h-.6zM165.45 190.8h.6V208.4h-.6zM165.95 198.4h.6V205.6h-.6zM166.45 198.0h.6V209.5h-.6zM166.95 196.1h.6V209.5h-.6zM167.45 198.0h.6V208.4h-.6zM167.95 198.0h.6V205.1h-.6zM168.45 198.9h.6V212.7h-.6zM168.95 193.3h.6V206.7h-.6zM169.45 198.9h.6V208.4h-.6zM169.95 195.7h.6V208.4h-.6zM170.45 189.3h.6V206.2h-.6zM170.95 195.4h.6V206.2h-.6zM171.45 195.7h.6V211.4h-.6zM171.95 195.7h.6V204.6h-.6zM172.45 196.1h.6V205.6h-.6zM172.95 199.7h.6V212.1h-.6zM173.45 197.3h.6V201.4h-.6zM173.95 198.4h.6V207.2h-.6zM174.45 198.4h.6V209.0h-.6zM174.95 202.4h.6V210.8h-.6zM175.45 197.3h.6V207.2h-.6zM175.95 196.5h.6V206.7h-.6zM176.45 193.3h.6V202.3h-.6zM176.95 193.3h.6V206.7h-.6zM177.45 196.5h.6V204.6h-.6zM177.95 195.7h.6V207.2h-.6zM178.45 195.7h.6V206.2h-.6zM178.95 195.7h.6V204.6h-.6zM179.45 198.4h.6V207.2h-.6zM179.95 201.5h.6V210.2h-.6zM180.45 193.0h.6V214.1h-.6zM180.95 193.3h.6V212.1h-.6zM181.45 193.6h.6V211.4h-.6zM181.95 196.9h.6V213.4h-.6zM182.45 196.5h.6V209.0h-.6zM182.95 198.0h.6V209.0h-.6zM183.45 196.1h.6V206.2h-.6zM183.95 198.4h.6V206.2h-.6zM184.45 192.0h.6V206.2h-.6zM184.95 196.1h.6V209.0h-.6zM185.45 195.0h.6V209.5h-.6zM185.95 197.6h.6V210.2h-.6zM186.45 196.5h.6V207.2h-.6zM186.95 198.4h.6V209.5h-.6zM187.45 198.0h.6V205.6h-.6zM187.95 196.5h.6V211.4h-.6zM188.45 200.6h.6V206.2h-.6zM188.95 194.3h.6V208.4h-.6zM189.45 196.5h.6V212.1h-.6zM189.95 190.8h.6V206.2h-.6zM190.45 201.5h.6V207.8h-.6zM190.95 200.6h.6V208.4h-.6zM191.45 197.6h.6V208.4h-.6zM191.95 201.9h.6V211.4h-.6zM192.45 194.0h.6V211.4h-.6zM192.95 196.9h.6V212.7h-.6zM193.45 197.3h.6V205.1h-.6zM193.95 196.5h.6V207.8h-.6zM194.45 193.6h.6V209.0h-.6zM194.95 194.3h.6V206.2h-.6zM195.45 198.9h.6V209.5h-.6zM195.95 199.7h.6V211.4h-.6zM196.45 199.7h.6V207.2h-.6zM196.95 198.9h.6V207.8h-.6zM197.45 198.4h.6V209.0h-.6zM197.95 200.6h.6V209.5h-.6zM198.45 197.6h.6V210.8h-.6zM198.95 199.3h.6V212.7h-.6zM199.45 197.6h.6V212.7h-.6zM199.95 201.9h.6V207.8h-.6zM200.45 199.3h.6V207.2h-.6zM200.95 201.0h.6V213.4h-.6zM201.45 196.5h.6V213.4h-.6zM201.95 200.1h.6V217.1h-.6zM202.45 200.1h.6V214.8h-.6zM202.95 201.0h.6V217.1h-.6zM203.45 198.4h.6V214.1h-.6zM203.95 198.0h.6V207.2h-.6zM204.45 196.9h.6V209.5h-.6zM204.95 204.8h.6V211.4h-.6zM205.45 203.8h.6V212.7h-.6zM205.95 199.3h.6V209.5h-.6zM206.45 192.6h.6V214.8h-.6zM206.95 201.5h.6V215.6h-.6zM207.45 200.6h.6V211.4h-.6zM207.95 201.9h.6V212.1h-.6zM208.45 197.3h.6V217.1h-.6zM208.95 200.1h.6V212.7h-.6zM209.45 202.4h.6V213.4h-.6zM209.95 201.9h.6V214.1h-.6zM210.45 199.3h.6V215.6h-.6zM210.95 203.8h.6V212.1h-.6zM211.45 199.3h.6V212.1h-.6zM211.95 201.0h.6V221.5h-.6zM212.45 195.4h.6V210.8h-.6zM212.95 200.6h.6V212.1h-.6zM213.45 201.0h.6V211.4h-.6zM213.95 200.6h.6V213.4h-.6zM214.45 202.4h.6V213.4h-.6zM214.95 208.7h.6V218.8h-.6zM215.45 202.9h.6V217.1h-.6zM215.95 200.6h.6V217.1h-.6zM216.45 204.8h.6V211.4h-.6zM216.95 202.4h.6V219.7h-.6zM217.45 206.4h.6V218.8h-.6zM217.95 203.8h.6V216.3h-.6zM218.45 200.1h.6V209.5h-.6zM218.95 199.3h.6V212.1h-.6zM219.45 206.4h.6V218.8h-.6zM219.95 203.8h.6V219.7h-.6zM220.45 204.3h.6V220.5h-.6zM220.95 204.3h.6V214.8h-.6zM221.45 203.8h.6V219.7h-.6zM221.95 207.6h.6V226.7h-.6zM222.45 205.4h.6V223.4h-.6zM222.95 210.0h.6V220.5h-.6zM223.45 208.7h.6V217.1h-.6zM223.95 204.8h.6V215.6h-.6zM224.45 207.0h.6V226.7h-.6zM224.95 204.3h.6V217.1h-.6zM225.45 207.6h.6V221.5h-.6zM225.95 207.0h.6V221.5h-.6zM226.45 207.0h.6V214.8h-.6zM226.95 206.4h.6V214.1h-.6zM227.45 205.4h.6V214.1h-.6zM227.95 207.0h.6V212.7h-.6zM228.45 210.6h.6V217.9h-.6zM228.95 207.6h.6V218.8h-.6zM229.45 201.5h.6V214.8h-.6zM229.95 201.0h.6V217.1h-.6zM230.45 201.0h.6V223.4h-.6zM230.95 207.0h.6V225.5h-.6zM231.45 210.0h.6V224.5h-.6zM231.95 207.0h.6V221.5h-.6zM232.45 210.6h.6V222.4h-.6zM232.95 207.0h.6V222.4h-.6zM233.45 202.9h.6V224.5h-.6zM233.95 203.8h.6V224.5h-.6zM234.45 210.0h.6V220.5h-.6zM234.95 211.3h.6V221.5h-.6zM235.45 207.0h.6V225.5h-.6zM235.95 206.4h.6V220.5h-.6zM236.45 206.4h.6V218.8h-.6zM236.95 205.9h.6V215.6h-.6zM237.45 206.4h.6V220.5h-.6zM237.95 207.0h.6V220.5h-.6zM238.45 207.0h.6V222.4h-.6zM238.95 210.6h.6V222.4h-.6zM239.45 206.4h.6V214.8h-.6zM239.95 201.0h.6V219.7h-.6zM240.45 203.3h.6V222.4h-.6zM240.95 210.6h.6V223.4h-.6zM241.45 206.4h.6V217.1h-.6zM241.95 205.9h.6V225.5h-.6zM242.45 213.3h.6V221.5h-.6zM242.95 204.3h.6V222.4h-.6zM243.45 211.3h.6V224.5h-.6zM243.95 210.6h.6V222.4h-.6zM244.45 204.3h.6V217.1h-.6zM244.95 209.4h.6V217.9h-.6zM245.45 205.9h.6V227.8h-.6zM245.95 209.4h.6V221.5h-.6zM246.45 208.7h.6V221.5h-.6zM246.95 205.9h.6V221.5h-.6zM247.45 205.4h.6V224.5h-.6zM247.95 214.8h.6V227.8h-.6zM248.45 212.6h.6V222.4h-.6zM248.95 208.7h.6V229.1h-.6zM249.45 209.4h.6V229.1h-.6zM249.95 208.7h.6V223.4h-.6zM250.45 210.6h.6V224.5h-.6zM250.95 210.0h.6V219.7h-.6zM251.45 210.6h.6V230.3h-.6zM251.95 208.2h.6V224.5h-.6zM252.45 208.7h.6V227.8h-.6zM252.95 211.3h.6V222.4h-.6zM253.45 214.8h.6V239.8h-.6zM253.95 207.6h.6V231.7h-.6zM254.45 207.6h.6V227.8h-.6zM254.95 210.0h.6V227.8h-.6zM255.45 213.3h.6V222.4h-.6zM255.95 215.5h.6V236.2h-.6zM256.45 214.8h.6V236.2h-.6zM256.95 217.1h.6V227.8h-.6zM257.45 214.0h.6V226.7h-.6zM257.95 211.9h.6V225.5h-.6zM258.45 213.3h.6V229.1h-.6zM258.95 215.5h.6V229.1h-.6zM259.45 210.0h.6V223.4h-.6zM259.95 211.9h.6V230.3h-.6zM260.45 208.2h.6V224.5h-.6zM260.95 208.2h.6V229.1h-.6zM261.45 216.3h.6V227.8h-.6zM261.95 215.5h.6V234.6h-.6zM262.45 211.9h.6V219.7h-.6zM262.95 215.5h.6V234.6h-.6zM263.45 209.4h.6V221.5h-.6zM263.95 214.8h.6V220.5h-.6zM264.45 213.3h.6V225.5h-.6zM264.95 214.8h.6V226.7h-.6zM265.45 212.6h.6V233.1h-.6zM265.95 208.7h.6V224.5h-.6zM266.45 208.7h.6V225.5h-.6zM266.95 217.1h.6V229.1h-.6zM267.45 212.6h.6V221.5h-.6zM267.95 217.1h.6V229.1h-.6zM268.45 214.0h.6V236.2h-.6zM268.95 212.6h.6V236.2h-.6zM269.45 211.9h.6V231.7h-.6zM269.95 217.1h.6V227.8h-.6zM270.45 211.9h.6V226.7h-.6zM270.95 215.5h.6V226.7h-.6zM271.45 209.4h.6V225.5h-.6zM271.95 214.8h.6V227.8h-.6zM272.45 215.5h.6V233.1h-.6zM272.95 208.2h.6V229.1h-.6zM273.45 215.5h.6V231.7h-.6zM273.95 211.3h.6V227.8h-.6zM274.45 216.3h.6V229.1h-.6zM274.95 218.9h.6V231.7h-.6zM275.45 211.9h.6V225.5h-.6zM275.95 208.7h.6V241.7h-.6zM276.45 208.7h.6V221.5h-.6zM276.95 214.8h.6V225.5h-.6zM277.45 213.3h.6V230.3h-.6zM277.95 218.9h.6V231.7h-.6zM278.45 214.8h.6V226.7h-.6zM278.95 217.1h.6V231.7h-.6zM279.45 215.5h.6V224.5h-.6zM279.95 211.9h.6V229.1h-.6zM280.45 211.3h.6V224.5h-.6zM280.95 211.3h.6V234.6h-.6zM281.45 214.0h.6V227.8h-.6zM281.95 214.0h.6V229.1h-.6zM282.45 215.5h.6V231.7h-.6zM282.95 214.0h.6V226.7h-.6zM283.45 214.8h.6V227.8h-.6zM283.95 215.5h.6V226.7h-.6zM284.45 216.3h.6V229.1h-.6zM284.95 211.3h.6V227.8h-.6zM285.45 215.5h.6V227.8h-.6zM285.95 214.0h.6V225.5h-.6zM286.45 215.5h.6V234.6h-.6zM286.95 218.9h.6V227.8h-.6zM287.45 216.3h.6V229.1h-.6zM287.95 214.8h.6V225.5h-.6zM288.45 209.4h.6V225.5h-.6zM288.95 216.3h.6V230.3h-.6zM289.45 219.7h.6V233.1h-.6zM289.95 216.3h.6V231.7h-.6zM290.45 215.5h.6V227.8h-.6zM290.95 218.0h.6V226.7h-.6zM291.45 218.0h.6V224.5h-.6zM291.95 210.6h.6V222.4h-.6zM292.45 215.5h.6V225.5h-.6zM292.95 212.6h.6V234.6h-.6zM293.45 214.0h.6V234.6h-.6zM293.95 213.3h.6V237.9h-.6zM294.45 214.8h.6V236.2h-.6zM294.95 216.3h.6V237.9h-.6zM295.45 216.3h.6V226.7h-.6zM295.95 216.3h.6V227.8h-.6zM296.45 216.3h.6V231.7h-.6zM296.95 216.3h.6V223.4h-.6zM297.45 218.0h.6V223.4h-.6zM297.95 218.0h.6V231.7h-.6zM298.45 214.8h.6V233.1h-.6zM298.95 209.4h.6V230.3h-.6zM299.45 216.3h.6V233.1h-.6zM299.95 217.1h.6V233.1h-.6zM300.45 218.0h.6V233.1h-.6zM300.95 218.9h.6V227.8h-.6zM301.45 214.8h.6V224.5h-.6zM301.95 212.6h.6V230.3h-.6zM302.45 213.3h.6V229.1h-.6zM302.95 216.3h.6V229.1h-.6zM303.45 216.3h.6V234.6h-.6zM303.95 214.8h.6V225.5h-.6zM304.45 220.7h.6V230.3h-.6zM304.95 218.9h.6V231.7h-.6zM305.45 216.3h.6V227.8h-.6zM305.95 217.1h.6V229.1h-.6zM306.45 215.5h.6V225.5h-.6zM306.95 212.6h.6V221.5h-.6zM307.45 215.5h.6V230.3h-.6zM307.95 207.6h.6V236.2h-.6zM308.45 214.0h.6V234.6h-.6zM308.95 211.3h.6V231.7h-.6zM309.45 218.9h.6V231.7h-.6zM309.95 216.3h.6V231.7h-.6zM310.45 214.0h.6V223.4h-.6zM310.95 214.8h.6V230.3h-.6zM311.45 215.5h.6V227.8h-.6zM311.95 213.3h.6V231.7h-.6zM312.45 217.1h.6V233.1h-.6zM312.95 211.9h.6V230.3h-.6zM313.45 211.9h.6V223.4h-.6zM313.95 211.9h.6V229.1h-.6zM314.45 211.9h.6V227.8h-.6zM314.95 207.0h.6V227.8h-.6zM315.45 212.6h.6V229.1h-.6zM315.95 215.5h.6V233.1h-.6zM316.45 218.9h.6V234.6h-.6zM316.95 215.5h.6V231.7h-.6zM317.45 211.9h.6V231.7h-.6zM317.95 214.0h.6V229.1h-.6zM318.45 217.1h.6V231.7h-.6zM318.95 214.8h.6V227.8h-.6zM319.45 214.8h.6V230.3h-.6zM319.95 216.3h.6V234.6h-.6zM320.45 218.9h.6V230.3h-.6zM320.95 215.5h.6V221.5h-.6zM321.45 216.3h.6V227.8h-.6zM321.95 217.1h.6V243.8h-.6zM322.45 212.6h.6V230.3h-.6zM322.95 216.3h.6V233.1h-.6zM323.45 208.2h.6V227.8h-.6zM323.95 213.3h.6V227.8h-.6zM324.45 215.5h.6V223.4h-.6zM324.95 211.3h.6V224.5h-.6zM325.45 218.9h.6V241.7h-.6zM325.95 216.3h.6V241.7h-.6zM326.45 214.0h.6V230.3h-.6zM326.95 213.3h.6V224.5h-.6zM327.45 219.7h.6V233.1h-.6zM327.95 211.3h.6V227.8h-.6zM328.45 217.1h.6V237.9h-.6zM328.95 207.6h.6V226.7h-.6zM329.45 211.9h.6V224.5h-.6zM329.95 216.3h.6V231.7h-.6zM330.45 216.3h.6V230.3h-.6zM330.95 216.3h.6V227.8h-.6zM331.45 213.3h.6V221.5h-.6zM331.95 215.5h.6V230.3h-.6zM332.45 215.5h.6V234.6h-.6zM332.95 216.3h.6V229.1h-.6zM333.45 211.9h.6V239.8h-.6zM333.95 214.8h.6V229.1h-.6zM334.45 209.4h.6V229.1h-.6zM334.95 208.2h.6V219.7h-.6zM52.02 261.7h0.55V315.0h-0.55z"/>
<path fill="#9acd32" d="M202.95 102.3h.6V125.1h-.6zM203.45 86.6h.6V103.1h-.6zM203.95 77.8h.6V87.4h-.6zM204.45 74.8h.6V78.6h-.6zM204.95 74.6h.6V75.9h-.6zM205.45 74.2h.6V75.7h-.6zM205.95 74.8h.6V79.3h-.6zM206.45 78.5h.6V89.5h-.6zM206.95 88.7h.6V106.1h-.6zM207.45 105.3h.6V124.9h-.6zM202.72 124.7h0.55V315.0h-0.55zM207.53 124.5h0.55V315.0h-0.55z"/>
<path fill="#008000" d="M214.45 122.9h.6V124.8h-.6zM214.95 100.8h.6V123.7h-.6zM215.45 88.0h.6V101.6h-.6zM215.95 79.8h.6V88.8h-.6zM216.45 75.4h.6V80.6h-.6zM216.95 73.4h.6V76.2h-.6zM217.45 73.1h.6V74.9h-.6zM217.95 73.3h.6V75.0h-.6zM218.45 73.5h.6V77.1h-.6zM218.95 76.3h.6V81.7h-.6zM219.45 80.9h.6V90.6h-.6zM219.95 89.8h.6V106.3h-.6zM220.45 105.5h.6V127.0h-.6zM214.53 124.4h0.55V315.0h-0.55zM220.72 126.6h0.55V315.0h-0.55z"/>
<path fill="#40e0d0" d="M200.45 48.1h.6V85.9h-.6zM200.95 39.8h.6V48.9h-.6zM201.45 43.5h.6V76.4h-.6zM201.95 75.6h.6V84.4h-.6zM200.22 85.5h0.55V315.0h-0.55zM201.82 84.0h0.55V315.0h-0.55z"/>
<path fill="#00ffff" d="M200.95 56.6h.6V86.7h-.6zM201.45 49.8h.6V57.4h-.6zM201.95 54.8h.6V91.7h-.6zM200.72 86.3h0.55V315.0h-0.55zM202.22 91.3h0.55V315.0h-0.55z"/>
<path fill="#1e90ff" d="M250.45 116.6h.6V125.9h-.6zM250.95 104.6h.6V117.4h-.6zM251.45 98.3h.6V105.4h-.6zM251.95 92.1h.6V99.1h-.6zM252.45 89.2h.6V93.2h-.6zM252.95 88.6h.6V92.5h-.6zM253.45 91.5h.6V94.6h-.6zM253.95 93.8h.6V99.6h-.6zM254.45 98.8h.6V104.7h-.6zM254.95 103.9h.6V109.0h-.6zM255.45 107.8h.6V113.3h-.6zM255.95 111.5h.6V115.5h-.6zM256.45 114.7h.6V117.9h-.6zM256.95 117.1h.6V122.1h-.6zM257.45 120.5h.6V125.1h-.6zM257.95 124.3h.6V128.0h-.6zM258.45 125.4h.6V128.6h-.6zM258.95 126.2h.6V130.0h-.6zM259.45 128.1h.6V131.8h-.6zM259.95 129.6h.6V133.0h-.6zM260.45 131.7h.6V135.0h-.6zM260.95 133.0h.6V136.6h-.6zM261.45 134.9h.6V138.7h-.6zM261.95 135.0h.6V138.4h-.6zM262.45 135.7h.6V138.6h-.6zM262.95 135.3h.6V138.7h-.6zM263.45 135.4h.6V138.3h-.6zM263.95 135.3h.6V139.0h-.6zM264.45 135.1h.6V139.0h-.6zM264.95 134.2h.6V138.5h-.6zM265.45 134.5h.6V138.0h-.6zM265.95 133.7h.6V137.5h-.6zM266.45 133.5h.6V137.3h-.6zM266.95 133.3h.6V137.2h-.6zM267.45 133.3h.6V136.8h-.6zM267.95 132.6h.6V135.9h-.6zM268.45 130.7h.6V134.3h-.6zM268.95 130.7h.6V133.9h-.6zM269.45 129.9h.6V133.1h-.6zM269.95 128.4h.6V132.9h-.6zM270.45 128.3h.6V132.3h-.6zM270.95 128.2h.6V131.6h-.6zM271.45 128.7h.6V131.7h-.6zM271.95 130.0h.6V136.9h-.6zM250.32 125.5h0.55V315.0h-0.55zM272.23 136.5h0.55V315.0h-0.55z"/>
<path fill="#000088" d="M18.45 279.6h.6V315.0h-.6zM18.95 279.6h.6V315.0h-.6zM19.45 290.3h.6V315.0h-.6zM19.95 290.3h.6V315.0h-.6zM20.45 308.6h.6V315.0h-.6zM20.95 279.6h.6V315.0h-.6zM21.45 290.3h.6V315.0h-.6zM21.95 290.3h.6V315.0h-.6zM22.45 279.6h.6V315.0h-.6zM22.95 266.1h.6V315.0h-.6zM23.45 290.3h.6V315.0h-.6zM23.95 279.6h.6V315.0h-.6zM24.45 272.0h.6V315.0h-.6zM24.95 272.0h.6V315.0h-.6zM25.45 279.6h.6V315.0h-.6zM25.95 290.3h.6V315.0h-.6zM26.45 290.3h.6V315.0h-.6zM26.95 290.3h.6V315.0h-.6zM27.45 290.3h.6V315.0h-.6zM27.95 272.0h.6V315.0h-.6zM28.45 279.6h.6V315.0h-.6zM28.95 279.6h.6V315.0h-.6zM29.45 266.1h.6V315.0h-.6zM29.95 279.6h.6V309.4h-.6zM30.45 308.6h.6V315.0h-.6zM30.95 290.3h.6V315.0h-.6zM31.45 290.3h.6V315.0h-.6zM31.95 279.6h.6V315.0h-.6zM32.45 266.1h.6V315.0h-.6zM32.95 272.0h.6V315.0h-.6zM33.45 279.6h.6V315.0h-.6zM33.95 279.6h.6V315.0h-.6zM34.45 272.0h.6V315.0h-.6zM34.95 308.6h.6V315.0h-.6zM35.45 279.6h.6V315.0h-.6zM35.95 308.6h.6V315.0h-.6zM36.45 261.3h.6V309.4h-.6zM36.95 279.6h.6V315.0h-.6zM37.45 290.3h.6V315.0h-.6zM37.95 272.0h.6V315.0h-.6zM38.45 279.6h.6V315.0h-.6zM38.95 279.6h.6V315.0h-.6zM39.45 279.6h.6V315.0h-.6zM39.95 279.6h.6V309.4h-.6zM40.45 266.1h.6V309.4h-.6zM40.95 279.6h.6V315.0h-.6zM41.45 272.0h.6V309.4h-.6zM41.95 279.6h.6V315.0h-.6zM42.45 279.6h.6V315.0h-.6zM42.95 279.6h.6V315.0h-.6zM43.45 279.6h.6V315.0h-.6zM43.95 279.6h.6V315.0h-.6zM44.45 272.0h.6V315.0h-.6zM44.95 266.1h.6V315.0h-.6zM45.45 272.0h.6V309.4h-.6zM45.95 272.0h.6V315.0h-.6zM46.45 279.6h.6V309.4h-.6zM46.95 272.0h.6V309.4h-.6zM47.45 272.0h.6V315.0h-.6zM47.95 272.0h.6V315.0h-.6zM48.45 279.6h.6V315.0h-.6zM48.95 279.6h.6V315.0h-.6zM49.45 266.1h.6V315.0h-.6zM49.95 272.0h.6V315.0h-.6zM50.45 266.1h.6V315.0h-.6zM50.95 279.6h.6V315.0h-.6zM51.45 290.3h.6V315.0h-.6zM51.95 279.6h.6V309.4h-.6zM52.45 272.0h.6V309.4h-.6zM52.95 279.6h.6V309.4h-.6zM53.45 279.6h.6V315.0h-.6zM53.95 266.1h.6V309.4h-.6zM54.45 266.1h.6V291.1h-.6zM54.95 266.1h.6V315.0h-.6zM55.45 272.0h.6V315.0h-.6zM55.95 272.0h.6V291.1h-.6zM56.45 272.0h.6V315.0h-.6zM56.95 272.0h.6V309.4h-.6zM57.45 279.6h.6V315.0h-.6zM57.95 266.1h.6V291.1h-.6zM58.45 272.0h.6V315.0h-.6zM58.95 272.0h.6V315.0h-.6zM59.45 279.6h.6V309.4h-.6zM59.95 272.0h.6V309.4h-.6zM60.45 279.6h.6V315.0h-.6zM60.95 279.6h.6V315.0h-.6zM61.45 257.3h.6V315.0h-.6zM61.95 266.1h.6V291.1h-.6zM62.45 266.1h.6V309.4h-.6zM62.95 272.0h.6V309.4h-.6zM63.45 272.0h.6V309.4h-.6zM63.95 266.1h.6V309.4h-.6zM64.45 261.3h.6V315.0h-.6zM64.95 261.3h.6V309.4h-.6zM65.45 266.1h.6V291.1h-.6zM65.95 266.1h.6V291.1h-.6zM66.45 266.1h.6V315.0h-.6zM66.95 272.0h.6V315.0h-.6zM67.45 266.1h.6V315.0h-.6zM67.95 272.0h.6V315.0h-.6zM68.45 257.3h.6V315.0h-.6zM68.95 261.3h.6V309.4h-.6zM69.45 266.1h.6V309.4h-.6zM69.95 261.3h.6V291.1h-.6zM70.45 261.3h.6V291.1h-.6zM70.95 272.0h.6V309.4h-.6zM71.45 250.6h.6V315.0h-.6zM71.95 272.0h.6V309.4h-.6zM72.45 257.3h.6V315.0h-.6zM72.95 272.0h.6V315.0h-.6zM73.45 272.0h.6V291.1h-.6zM73.95 261.3h.6V291.1h-.6zM74.45 261.3h.6V315.0h-.6zM74.95 261.3h.6V309.4h-.6zM75.45 261.3h.6V291.1h-.6zM75.95 266.1h.6V315.0h-.6zM76.45 266.1h.6V309.4h-.6zM76.95 257.3h.6V309.4h-.6zM77.45 253.7h.6V291.1h-.6zM77.95 272.0h.6V291.1h-.6zM78.45 279.6h.6V309.4h-.6zM78.95 257.3h.6V291.1h-.6zM79.45 261.3h.6V291.1h-.6zM79.95 257.3h.6V291.1h-.6zM80.45 257.3h.6V309.4h-.6zM80.95 253.7h.6V291.1h-.6zM81.45 266.1h.6V315.0h-.6zM81.95 279.6h.6V291.1h-.6zM82.45 266.1h.6V309.4h-.6zM82.95 272.0h.6V291.1h-.6zM83.45 257.3h.6V309.4h-.6zM83.95 261.3h.6V309.4h-.6zM84.45 261.3h.6V291.1h-.6zM84.95 266.1h.6V309.4h-.6zM85.45 261.3h.6V309.4h-.6zM85.95 257.3h.6V315.0h-.6zM86.45 261.3h.6V280.4h-.6zM86.95 266.1h.6V309.4h-.6zM87.45 261.3h.6V315.0h-.6zM87.95 257.3h.6V315.0h-.6zM88.45 261.3h.6V309.4h-.6zM88.95 261.3h.6V291.1h-.6zM89.45 257.3h.6V291.1h-.6zM89.95 257.3h.6V291.1h-.6zM90.45 257.3h.6V309.4h-.6zM90.95 266.1h.6V309.4h-.6zM91.45 261.3h.6V280.4h-.6zM91.95 257.3h.6V291.1h-.6zM92.45 250.6h.6V272.8h-.6zM92.95 261.3h.6V309.4h-.6zM93.45 257.3h.6V309.4h-.6zM93.95 257.3h.6V291.1h-.6zM94.45 266.1h.6V309.4h-.6zM94.95 253.7h.6V309.4h-.6zM95.45 257.3h.6V309.4h-.6zM95.95 243.0h.6V280.4h-.6zM96.45 245.3h.6V291.1h-.6zM96.95 250.6h.6V280.4h-.6zM97.45 250.6h.6V272.8h-.6zM97.95 253.7h.6V309.4h-.6zM98.45 253.7h.6V280.4h-.6zM98.95 257.3h.6V309.4h-.6zM99.45 253.7h.6V280.4h-.6zM99.95 250.6h.6V291.1h-.6zM100.45 250.6h.6V291.1h-.6zM100.95 245.3h.6V291.1h-.6zM101.45 247.8h.6V291.1h-.6zM101.95 240.9h.6V280.4h-.6zM102.45 243.0h.6V272.8h-.6zM102.95 247.8h.6V291.1h-.6zM103.45 247.8h.6V309.4h-.6zM103.95 253.7h.6V291.1h-.6zM104.45 250.6h.6V272.8h-.6zM104.95 245.3h.6V272.8h-.6zM105.45 245.3h.6V272.8h-.6zM105.95 250.6h.6V272.8h-.6zM106.45 239.0h.6V272.8h-.6zM106.95 250.6h.6V272.8h-.6zM107.45 240.9h.6V291.1h-.6zM107.95 250.6h.6V280.4h-.6zM108.45 247.8h.6V291.1h-.6zM108.95 253.7h.6V280.4h-.6zM109.45 250.6h.6V280.4h-.6zM109.95 247.8h.6V266.9h-.6zM110.45 247.8h.6V262.1h-.6zM110.95 245.3h.6V280.4h-.6zM111.45 243.0h.6V291.1h-.6zM111.95 237.1h.6V266.9h-.6zM112.45 237.1h.6V272.8h-.6zM112.95 247.8h.6V266.9h-.6zM113.45 245.3h.6V291.1h-.6zM113.95 253.7h.6V266.9h-.6zM114.45 240.9h.6V266.9h-.6zM114.95 239.0h.6V266.9h-.6zM115.45 240.9h.6V266.9h-.6zM115.95 245.3h.6V258.1h-.6zM116.45 243.0h.6V258.1h-.6zM116.95 243.0h.6V309.4h-.6zM117.45 247.8h.6V272.8h-.6zM117.95 243.0h.6V272.8h-.6zM118.45 243.0h.6V266.9h-.6zM118.95 245.3h.6V280.4h-.6zM119.45 247.8h.6V262.1h-.6zM119.95 243.0h.6V266.9h-.6zM120.45 240.9h.6V258.1h-.6zM120.95 245.3h.6V266.9h-.6zM121.45 245.3h.6V262.1h-.6zM121.95 247.8h.6V272.8h-.6zM122.45 243.0h.6V254.5h-.6zM122.95 239.0h.6V254.5h-.6zM123.45 239.0h.6V266.9h-.6zM123.95 232.3h.6V258.1h-.6zM124.45 240.9h.6V262.1h-.6zM124.95 230.9h.6V258.1h-.6zM125.45 237.1h.6V272.8h-.6zM125.95 237.1h.6V254.5h-.6zM126.45 233.8h.6V262.1h-.6zM126.95 233.8h.6V258.1h-.6zM127.45 239.0h.6V258.1h-.6zM127.95 237.1h.6V251.4h-.6zM128.45 235.4h.6V258.1h-.6zM128.95 233.8h.6V258.1h-.6zM129.45 230.9h.6V258.1h-.6zM129.95 232.3h.6V251.4h-.6zM130.45 229.5h.6V246.1h-.6zM130.95 239.0h.6V258.1h-.6zM131.45 239.0h.6V251.4h-.6zM131.95 232.3h.6V258.1h-.6zM132.45 232.3h.6V251.4h-.6zM132.95 233.8h.6V258.1h-.6zM133.45 243.0h.6V266.9h-.6zM133.95 232.3h.6V246.1h-.6zM134.45 229.5h.6V251.4h-.6zM134.95 229.5h.6V251.4h-.6zM135.45 230.9h.6V251.4h-.6zM135.95 233.8h.6V254.5h-.6zM136.45 233.8h.6V262.1h-.6zM136.95 233.8h.6V246.1h-.6zM137.45 232.3h.6V246.1h-.6zM137.95 233.8h.6V254.5h-.6zM138.45 228.3h.6V248.6h-.6zM138.95 223.7h.6V254.5h-.6zM139.45 232.3h.6V251.4h-.6zM139.95 229.5h.6V248.6h-.6zM140.45 227.0h.6V248.6h-.6zM140.95 229.5h.6V258.1h-.6zM141.45 230.9h.6V241.7h-.6zM141.95 232.3h.6V248.6h-.6zM142.45 225.9h.6V248.6h-.6zM142.95 223.7h.6V241.7h-.6zM143.45 228.3h.6V243.8h-.6zM143.95 228.3h.6V251.4h-.6zM144.45 227.0h.6V241.7h-.6zM144.95 232.3h.6V243.8h-.6zM145.45 228.3h.6V254.5h-.6zM145.95 224.7h.6V243.8h-.6zM146.45 224.7h.6V246.1h-.6zM146.95 228.3h.6V246.1h-.6zM147.45 225.9h.6V248.6h-.6zM147.95 228.3h.6V243.8h-.6zM148.45 227.0h.6V243.8h-.6zM148.95 225.9h.6V241.7h-.6zM149.45 218.9h.6V246.1h-.6zM149.95 227.0h.6V243.8h-.6zM150.45 228.3h.6V243.8h-.6zM150.95 225.9h.6V251.4h-.6zM151.45 223.7h.6V237.9h-.6zM151.95 222.6h.6V234.6h-.6zM152.45 218.9h.6V239.8h-.6zM152.95 218.9h.6V231.7h-.6zM153.45 222.6h.6V243.8h-.6zM153.95 218.9h.6V243.8h-.6zM154.45 224.7h.6V243.8h-.6zM154.95 224.7h.6V248.6h-.6zM155.45 218.9h.6V233.1h-.6zM155.95 218.9h.6V243.8h-.6zM156.45 222.6h.6V241.7h-.6zM156.95 222.6h.6V234.6h-.6zM157.45 216.3h.6V233.1h-.6zM157.95 213.3h.6V237.9h-.6zM158.45 213.3h.6V236.2h-.6zM158.95 220.7h.6V243.8h-.6zM159.45 220.7h.6V237.9h-.6zM159.95 216.3h.6V233.1h-.6zM160.45 222.6h.6V239.8h-.6zM160.95 223.7h.6V239.8h-.6zM161.45 219.7h.6V231.7h-.6zM161.95 218.0h.6V239.8h-.6zM162.45 214.8h.6V239.8h-.6zM162.95 215.5h.6V233.1h-.6zM163.45 222.6h.6V233.1h-.6zM163.95 220.7h.6V231.7h-.6zM164.45 218.0h.6V231.7h-.6zM164.95 216.3h.6V230.3h-.6zM165.45 214.8h.6V223.4h-.6zM165.95 219.7h.6V233.1h-.6zM166.45 211.9h.6V227.8h-.6zM166.95 211.3h.6V227.8h-.6zM167.45 210.0h.6V222.4h-.6zM167.95 213.3h.6V226.7h-.6zM168.45 211.3h.6V226.7h-.6zM168.95 215.5h.6V226.7h-.6zM169.45 207.6h.6V223.4h-.6zM169.95 207.6h.6V220.5h-.6zM170.45 216.3h.6V225.5h-.6zM170.95 213.3h.6V221.5h-.6zM171.45 211.9h.6V221.5h-.6zM171.95 212.6h.6V225.5h-.6zM172.45 212.6h.6V221.5h-.6zM172.95 211.3h.6V226.7h-.6zM173.45 208.7h.6V224.5h-.6zM173.95 207.6h.6V224.5h-.6zM174.45 206.4h.6V214.8h-.6zM174.95 204.8h.6V218.8h-.6zM175.45 205.9h.6V216.3h-.6zM175.95 207.6h.6V224.5h-.6zM176.45 208.7h.6V220.5h-.6zM176.95 207.0h.6V214.1h-.6zM177.45 205.4h.6V212.7h-.6zM177.95 201.9h.6V212.7h-.6zM178.45 205.9h.6V210.8h-.6zM178.95 203.8h.6V212.1h-.6zM179.45 202.9h.6V212.1h-.6zM179.95 201.9h.6V212.1h-.6zM180.45 200.6h.6V214.8h-.6zM180.95 202.9h.6V211.4h-.6zM181.45 204.3h.6V210.8h-.6zM181.95 200.6h.6V211.4h-.6zM182.45 201.5h.6V210.8h-.6zM182.95 201.9h.6V207.8h-.6zM183.45 199.3h.6V210.8h-.6zM183.95 201.9h.6V207.8h-.6zM184.45 201.5h.6V207.2h-.6zM184.95 198.0h.6V206.7h-.6zM185.45 198.4h.6V206.2h-.6zM185.95 198.9h.6V207.2h-.6zM186.45 198.0h.6V207.2h-.6zM186.95 195.7h.6V203.7h-.6zM187.45 198.9h.6V203.7h-.6zM187.95 192.6h.6V202.3h-.6zM188.45 194.0h.6V203.2h-.6zM188.95 190.8h.6V200.5h-.6zM189.45 194.0h.6V200.9h-.6zM189.95 190.2h.6V203.2h-.6zM190.45 191.7h.6V199.2h-.6zM190.95 188.7h.6V199.2h-.6zM191.45 191.7h.6V195.1h-.6zM191.95 191.4h.6V198.8h-.6zM192.45 188.4h.6V202.3h-.6zM192.95 187.3h.6V200.9h-.6zM193.45 187.9h.6V200.9h-.6zM193.95 185.0h.6V193.4h-.6zM194.45 185.0h.6V193.4h-.6zM194.95 184.3h.6V193.4h-.6zM195.45 184.3h.6V194.1h-.6zM195.95 184.3h.6V191.3h-.6zM196.45 185.0h.6V191.6h-.6zM196.95 184.8h.6V192.5h-.6zM197.45 186.0h.6V191.3h-.6zM197.95 184.3h.6V191.0h-.6zM198.45 181.2h.6V190.4h-.6zM198.95 184.1h.6V189.2h-.6zM199.45 182.7h.6V187.9h-.6zM199.95 181.8h.6V186.6h-.6zM200.45 182.0h.6V186.6h-.6zM200.95 179.6h.6V187.6h-.6zM201.45 179.4h.6V184.4h-.6zM201.95 179.8h.6V184.9h-.6zM202.45 177.5h.6V187.4h-.6zM202.95 177.5h.6V183.7h-.6zM203.45 179.0h.6V187.4h-.6zM203.95 177.5h.6V184.4h-.6zM204.45 179.0h.6V186.1h-.6zM204.95 177.5h.6V182.6h-.6zM205.45 177.5h.6V183.7h-.6zM205.95 177.1h.6V183.5h-.6zM206.45 177.6h.6V185.4h-.6zM206.95 174.5h.6V181.6h-.6zM207.45 174.7h.6V181.6h-.6zM207.95 174.7h.6V183.1h-.6zM208.45 175.7h.6V180.2h-.6zM208.95 174.8h.6V180.0h-.6zM209.45 173.9h.6V180.4h-.6zM209.95 174.7h.6V180.6h-.6zM210.45 174.7h.6V178.3h-.6zM210.95 171.3h.6V177.5h-.6zM211.45 171.3h.6V180.2h-.6zM211.95 171.6h.6V177.5h-.6zM212.45 171.6h.6V177.4h-.6zM212.95 171.4h.6V178.1h-.6zM213.45 171.4h.6V179.2h-.6zM213.95 172.6h.6V176.0h-.6zM214.45 171.9h.6V176.8h-.6zM214.95 171.3h.6V180.0h-.6zM215.45 167.9h.6V177.4h-.6zM215.95 171.1h.6V178.1h-.6zM216.45 170.1h.6V177.0h-.6zM216.95 171.9h.6V175.1h-.6zM217.45 169.5h.6V176.7h-.6zM217.95 168.8h.6V172.7h-.6zM218.45 168.5h.6V175.1h-.6zM218.95 168.1h.6V173.6h-.6zM219.45 167.3h.6V174.2h-.6zM219.95 167.6h.6V173.9h-.6zM220.45 167.8h.6V173.1h-.6zM220.95 167.5h.6V173.1h-.6zM221.45 167.5h.6V171.8h-.6zM221.95 165.4h.6V171.4h-.6zM222.45 165.4h.6V170.8h-.6zM222.95 166.0h.6V171.2h-.6zM223.45 165.7h.6V171.2h-.6zM223.95 165.6h.6V171.9h-.6zM224.45 164.9h.6V171.9h-.6zM224.95 165.3h.6V169.7h-.6zM225.45 165.3h.6V171.4h-.6zM225.95 164.4h.6V169.5h-.6zM226.45 164.4h.6V171.4h-.6zM226.95 164.2h.6V169.5h-.6zM227.45 162.1h.6V170.0h-.6zM227.95 162.9h.6V167.9h-.6zM228.45 162.0h.6V166.5h-.6zM228.95 162.8h.6V165.9h-.6zM229.45 161.9h.6V166.6h-.6zM229.95 160.6h.6V165.1h-.6zM230.45 159.9h.6V165.1h-.6zM230.95 157.6h.6V163.3h-.6zM231.45 156.4h.6V163.2h-.6zM231.95 156.4h.6V161.6h-.6zM232.45 155.7h.6V161.8h-.6zM232.95 154.9h.6V161.8h-.6zM233.45 153.8h.6V157.4h-.6zM233.95 151.7h.6V156.5h-.6zM234.45 151.4h.6V155.7h-.6zM234.95 149.7h.6V153.8h-.6zM235.45 148.4h.6V152.9h-.6zM235.95 149.1h.6V152.9h-.6zM236.45 147.9h.6V153.1h-.6zM236.95 149.0h.6V154.1h-.6zM237.45 148.5h.6V155.4h-.6zM237.95 149.6h.6V153.6h-.6zM238.45 150.4h.6V155.4h-.6zM238.95 152.0h.6V155.8h-.6zM239.45 152.5h.6V155.6h-.6zM239.95 152.3h.6V155.1h-.6zM240.45 152.9h.6V156.5h-.6zM240.95 152.1h.6V157.3h-.6zM241.45 153.3h.6V158.6h-.6zM241.95 152.8h.6V158.2h-.6zM242.45 154.3h.6V160.2h-.6zM242.95 155.9h.6V160.2h-.6zM243.45 156.0h.6V159.2h-.6zM243.95 154.1h.6V161.1h-.6zM244.45 156.1h.6V161.1h-.6zM244.95 156.6h.6V162.1h-.6zM245.45 158.4h.6V161.5h-.6zM245.95 158.6h.6V163.8h-.6zM246.45 158.7h.6V163.5h-.6zM246.95 158.4h.6V162.1h-.6zM247.45 160.7h.6V163.8h-.6zM247.95 159.4h.6V164.1h-.6zM248.45 160.8h.6V165.7h-.6zM248.95 162.2h.6V168.4h-.6zM249.45 161.8h.6V166.5h-.6zM249.95 162.4h.6V167.4h-.6zM250.45 163.2h.6V167.4h-.6zM250.95 164.2h.6V168.1h-.6zM251.45 163.2h.6V169.6h-.6zM251.95 163.2h.6V170.8h-.6zM252.45 164.2h.6V172.7h-.6zM252.95 164.5h.6V173.1h-.6zM253.45 164.9h.6V173.1h-.6zM253.95 166.6h.6V171.9h-.6zM254.45 169.1h.6V175.1h-.6zM254.95 167.3h.6V173.6h-.6zM255.45 168.4h.6V173.6h-.6zM255.95 170.7h.6V174.0h-.6zM256.45 169.1h.6V175.6h-.6zM256.95 170.1h.6V176.8h-.6zM257.45 171.6h.6V179.4h-.6zM257.95 173.5h.6V178.6h-.6zM258.45 173.5h.6V179.0h-.6zM258.95 171.7h.6V179.2h-.6zM259.45 175.0h.6V179.2h-.6zM259.95 174.8h.6V180.8h-.6zM260.45 176.4h.6V184.4h-.6zM260.95 174.8h.6V179.4h-.6zM261.45 176.4h.6V179.4h-.6zM261.95 177.1h.6V183.3h-.6zM262.45 177.1h.6V183.5h-.6zM262.95 180.8h.6V184.2h-.6zM263.45 177.6h.6V184.2h-.6zM263.95 179.8h.6V183.3h-.6zM264.45 180.0h.6V184.2h-.6zM264.95 180.0h.6V187.1h-.6zM265.45 180.8h.6V188.4h-.6zM265.95 181.6h.6V190.4h-.6zM266.45 182.0h.6V190.4h-.6zM266.95 181.4h.6V190.4h-.6zM267.45 183.6h.6V190.1h-.6zM267.95 181.6h.6V190.1h-.6zM268.45 180.6h.6V192.2h-.6zM268.95 180.6h.6V190.4h-.6zM269.45 184.1h.6V192.2h-.6zM269.95 184.1h.6V196.2h-.6zM270.45 186.0h.6V192.2h-.6zM270.95 189.3h.6V193.1h-.6zM271.45 189.3h.6V195.5h-.6zM271.95 186.3h.6V196.9h-.6zM272.45 186.3h.6V194.4h-.6zM272.95 186.0h.6V198.8h-.6zM273.45 186.0h.6V195.1h-.6zM273.95 188.2h.6V201.4h-.6zM274.45 191.7h.6V198.4h-.6zM274.95 190.5h.6V200.1h-.6zM275.45 191.1h.6V198.4h-.6zM275.95 194.3h.6V200.5h-.6zM276.45 191.4h.6V202.3h-.6zM276.95 194.0h.6V202.3h-.6zM277.45 194.7h.6V204.6h-.6zM277.95 193.3h.6V202.7h-.6zM278.45 193.3h.6V200.5h-.6zM278.95 193.3h.6V206.2h-.6zM279.45 199.3h.6V206.2h-.6zM279.95 196.1h.6V206.7h-.6zM280.45 198.0h.6V211.4h-.6zM280.95 195.0h.6V203.7h-.6zM281.45 196.9h.6V205.6h-.6zM281.95 196.9h.6V209.0h-.6zM282.45 200.1h.6V207.2h-.6zM282.95 201.0h.6V207.8h-.6zM283.45 200.6h.6V207.8h-.6zM283.95 199.7h.6V208.4h-.6zM284.45 201.9h.6V207.8h-.6zM284.95 199.3h.6V206.7h-.6zM285.45 199.3h.6V210.2h-.6zM285.95 203.8h.6V217.9h-.6zM286.45 203.3h.6V217.9h-.6zM286.95 204.8h.6V216.3h-.6zM287.45 203.3h.6V216.3h-.6zM287.95 204.3h.6V211.4h-.6zM288.45 208.2h.6V217.1h-.6zM288.95 208.2h.6V217.9h-.6zM289.45 199.3h.6V219.7h-.6zM289.95 203.8h.6V221.5h-.6zM290.45 207.0h.6V217.9h-.6zM290.95 204.3h.6V214.1h-.6zM291.45 204.3h.6V218.8h-.6zM291.95 207.6h.6V219.7h-.6zM292.45 210.0h.6V218.8h-.6zM292.95 210.6h.6V222.4h-.6zM293.45 208.7h.6V221.5h-.6zM293.95 212.6h.6V221.5h-.6zM294.45 212.6h.6V224.5h-.6zM294.95 211.9h.6V227.8h-.6zM295.45 211.9h.6V230.3h-.6zM295.95 209.4h.6V225.5h-.6zM296.45 209.4h.6V229.1h-.6zM296.95 210.6h.6V220.5h-.6zM297.45 210.6h.6V226.7h-.6zM297.95 212.6h.6V225.5h-.6zM298.45 212.6h.6V225.5h-.6zM298.95 210.6h.6V225.5h-.6zM299.45 213.3h.6V226.7h-.6zM299.95 211.3h.6V231.7h-.6zM300.45 214.8h.6V236.2h-.6zM300.95 216.3h.6V227.8h-.6zM301.45 214.8h.6V231.7h-.6zM301.95 214.8h.6V233.1h-.6zM302.45 213.3h.6V231.7h-.6zM302.95 211.9h.6V230.3h-.6zM303.45 216.3h.6V230.3h-.6zM303.95 213.3h.6V230.3h-.6zM304.45 218.9h.6V224.5h-.6zM304.95 218.0h.6V229.1h-.6zM305.45 218.0h.6V229.1h-.6zM305.95 216.3h.6V233.1h-.6zM306.45 220.7h.6V236.2h-.6zM306.95 214.8h.6V236.2h-.6zM307.45 215.5h.6V237.9h-.6zM307.95 218.0h.6V237.9h-.6zM308.45 216.3h.6V234.6h-.6zM308.95 219.7h.6V230.3h-.6zM309.45 221.6h.6V234.6h-.6zM309.95 224.7h.6V236.2h-.6zM310.45 217.1h.6V236.2h-.6zM310.95 219.7h.6V231.7h-.6zM311.45 218.9h.6V234.6h-.6zM311.95 218.9h.6V233.1h-.6zM312.45 221.6h.6V233.1h-.6zM312.95 216.3h.6V243.8h-.6zM313.45 216.3h.6V239.8h-.6zM313.95 220.7h.6V239.8h-.6zM314.45 220.7h.6V236.2h-.6zM314.95 227.0h.6V236.2h-.6zM315.45 223.7h.6V236.2h-.6zM315.95 223.7h.6V243.8h-.6zM316.45 219.7h.6V239.8h-.6zM316.95 220.7h.6V236.2h-.6zM317.45 222.6h.6V239.8h-.6zM317.95 222.6h.6V241.7h-.6zM318.45 223.7h.6V241.7h-.6zM318.95 223.7h.6V239.8h-.6zM319.45 223.7h.6V237.9h-.6zM319.95 223.7h.6V239.8h-.6zM320.45 222.6h.6V237.9h-.6zM320.95 224.7h.6V246.1h-.6zM321.45 212.6h.6V239.8h-.6zM321.95 212.6h.6V243.8h-.6zM322.45 230.9h.6V243.8h-.6zM322.95 229.5h.6V248.6h-.6zM323.45 224.7h.6V243.8h-.6zM323.95 224.7h.6V243.8h-.6zM324.45 224.7h.6V246.1h-.6zM324.95 227.0h.6V243.8h-.6zM325.45 222.6h.6V251.4h-.6zM325.95 219.7h.6V251.4h-.6zM326.45 222.6h.6V272.8h-.6zM326.95 230.9h.6V272.8h-.6zM327.45 230.9h.6V258.1h-.6zM327.95 220.7h.6V243.8h-.6zM328.45 229.5h.6V243.8h-.6zM328.95 225.9h.6V248.6h-.6zM329.45 232.3h.6V248.6h-.6zM329.95 228.3h.6V243.8h-.6zM330.45 228.3h.6V246.1h-.6zM330.95 235.4h.6V254.5h-.6zM331.45 229.5h.6V248.6h-.6zM331.95 228.3h.6V248.6h-.6zM332.45 228.3h.6V251.4h-.6zM332.95 229.5h.6V248.6h-.6zM333.45 233.8h.6V248.6h-.6zM333.95 229.5h.6V251.4h-.6zM334.45 229.5h.6V258.1h-.6zM334.95 224.7h.6V251.4h-.6z"/>
<path fill="#9370db" d="M228.95 205.4h.6V206.2h-.6zM229.45 195.0h.6V210.2h-.6zM229.95 195.7h.6V207.8h-.6zM230.45 190.8h.6V204.1h-.6zM230.95 188.7h.6V201.8h-.6zM231.45 188.4h.6V196.9h-.6zM231.95 184.3h.6V198.4h-.6zM232.45 181.6h.6V186.1h-.6zM232.95 177.5h.6V184.9h-.6zM233.45 172.9h.6V180.8h-.6zM233.95 168.7h.6V177.4h-.6zM234.45 167.0h.6V174.0h-.6zM234.95 162.6h.6V170.5h-.6zM235.45 158.9h.6V163.7h-.6zM235.95 156.6h.6V163.7h-.6zM236.45 154.0h.6V159.5h-.6zM236.95 148.5h.6V157.4h-.6zM237.45 146.4h.6V151.0h-.6zM237.95 143.0h.6V147.2h-.6zM238.45 140.2h.6V146.3h-.6zM238.95 137.7h.6V142.4h-.6zM239.45 134.1h.6V138.9h-.6zM239.95 132.2h.6V137.0h-.6zM240.45 129.5h.6V133.0h-.6zM240.95 128.0h.6V131.9h-.6zM241.45 126.1h.6V129.8h-.6zM241.95 122.8h.6V127.1h-.6zM242.45 122.0h.6V125.2h-.6zM242.95 118.6h.6V123.9h-.6zM243.45 117.1h.6V120.9h-.6zM243.95 117.1h.6V120.4h-.6zM244.45 118.4h.6V122.4h-.6zM244.95 120.0h.6V122.7h-.6zM245.45 119.1h.6V121.9h-.6zM245.95 121.1h.6V124.3h-.6zM246.45 122.4h.6V125.5h-.6zM246.95 123.6h.6V128.1h-.6zM247.45 124.5h.6V128.0h-.6zM247.95 126.3h.6V129.1h-.6zM248.45 124.9h.6V129.1h-.6zM248.95 123.3h.6V126.9h-.6zM249.45 120.7h.6V125.2h-.6zM249.95 118.9h.6V122.5h-.6zM250.45 117.9h.6V120.8h-.6zM250.95 115.4h.6V119.9h-.6zM251.45 114.3h.6V117.8h-.6zM251.95 114.8h.6V117.2h-.6zM252.45 115.6h.6V119.5h-.6zM252.95 116.8h.6V125.6h-.6zM253.45 124.4h.6V136.1h-.6zM253.95 134.6h.6V142.6h-.6zM254.45 140.1h.6V150.7h-.6zM254.95 149.9h.6V156.5h-.6zM255.45 153.9h.6V169.5h-.6zM255.95 166.0h.6V169.5h-.6zM256.45 166.3h.6V176.7h-.6zM256.95 174.0h.6V186.6h-.6zM257.45 183.9h.6V191.0h-.6zM257.95 184.3h.6V203.7h-.6zM258.45 195.7h.6V207.2h-.6zM258.95 198.0h.6V214.1h-.6zM259.45 206.4h.6V218.8h-.6zM259.95 211.3h.6V224.5h-.6zM260.45 217.1h.6V224.5h-.6zM260.95 218.9h.6V234.6h-.6zM261.45 211.9h.6V236.2h-.6zM261.95 216.3h.6V239.8h-.6zM262.45 221.6h.6V231.7h-.6zM229.12 205.8h0.55V315.0h-0.55zM262.43 222.0h0.55V315.0h-0.55z"/>
<path fill="#ee82ee" d="M208.95 100.7h.6V108.3h-.6zM209.45 72.9h.6V101.5h-.6zM209.95 64.7h.6V73.7h-.6zM210.45 63.5h.6V65.5h-.6zM210.95 63.8h.6V68.8h-.6zM211.45 68.0h.6V88.1h-.6zM211.95 87.3h.6V114.7h-.6zM209.03 107.9h0.55V315.0h-0.55zM212.03 114.3h0.55V315.0h-0.55z"/>
<path fill="#800080" d="M183.45 266.1h.6V315.0h-.6zM183.95 266.1h.6V315.0h-.6zM184.45 261.3h.6V309.4h-.6zM184.95 257.3h.6V309.4h-.6zM185.45 247.8h.6V280.4h-.6zM185.95 250.6h.6V272.8h-.6zM186.45 232.3h.6V272.8h-.6zM186.95 232.3h.6V254.5h-.6zM187.45 229.5h.6V251.4h-.6zM187.95 229.5h.6V251.4h-.6zM188.45 224.7h.6V239.8h-.6zM188.95 223.7h.6V246.1h-.6zM189.45 222.6h.6V243.8h-.6zM189.95 224.7h.6V243.8h-.6zM190.45 219.7h.6V233.1h-.6zM190.95 214.8h.6V230.3h-.6zM191.45 214.8h.6V233.1h-.6zM191.95 215.5h.6V224.5h-.6zM192.45 207.6h.6V221.5h-.6zM192.95 212.6h.6V220.5h-.6zM193.45 210.6h.6V219.7h-.6zM193.95 207.0h.6V218.8h-.6zM194.45 204.8h.6V220.5h-.6zM194.95 207.0h.6V217.1h-.6zM195.45 203.8h.6V225.5h-.6zM195.95 201.9h.6V214.8h-.6zM196.45 202.4h.6V214.8h-.6zM196.95 200.1h.6V207.2h-.6zM197.45 200.1h.6V206.2h-.6zM197.95 196.5h.6V208.4h-.6zM198.45 192.0h.6V204.1h-.6zM198.95 191.1h.6V202.3h-.6zM199.45 190.8h.6V199.2h-.6zM199.95 190.5h.6V199.2h-.6zM200.45 184.1h.6V193.4h-.6zM200.95 184.1h.6V190.7h-.6zM201.45 182.0h.6V189.8h-.6zM201.95 179.2h.6V191.3h-.6zM202.45 179.6h.6V184.7h-.6zM202.95 175.0h.6V184.7h-.6zM203.45 174.3h.6V180.6h-.6zM203.95 174.3h.6V179.6h-.6zM204.45 171.1h.6V176.8h-.6zM204.95 169.7h.6V175.8h-.6zM205.45 168.1h.6V171.6h-.6zM205.95 167.6h.6V170.9h-.6zM206.45 165.1h.6V168.7h-.6zM206.95 161.7h.6V167.2h-.6zM207.45 158.9h.6V167.0h-.6zM207.95 156.4h.6V163.8h-.6zM208.45 154.9h.6V161.7h-.6zM208.95 153.6h.6V161.2h-.6zM209.45 151.2h.6V156.9h-.6zM209.95 147.7h.6V155.0h-.6zM210.45 147.7h.6V153.4h-.6zM210.95 145.7h.6V151.4h-.6zM211.45 143.6h.6V148.7h-.6zM211.95 141.1h.6V147.0h-.6zM212.45 140.3h.6V144.0h-.6zM212.95 137.0h.6V142.2h-.6zM213.45 134.8h.6V140.0h-.6zM213.95 131.8h.6V137.0h-.6zM214.45 129.3h.6V132.8h-.6zM214.95 126.7h.6V131.7h-.6zM215.45 123.6h.6V127.5h-.6zM215.95 122.1h.6V125.1h-.6zM216.45 122.3h.6V124.5h-.6zM216.95 121.4h.6V124.2h-.6zM217.45 120.8h.6V123.3h-.6zM217.95 121.4h.6V124.6h-.6zM218.45 122.9h.6V126.4h-.6zM218.95 123.6h.6V129.4h-.6zM219.45 125.7h.6V129.4h-.6zM219.95 125.7h.6V131.8h-.6zM220.45 127.6h.6V130.8h-.6zM220.95 127.9h.6V130.9h-.6zM221.45 127.0h.6V129.4h-.6zM221.95 125.2h.6V128.2h-.6zM222.45 125.3h.6V128.2h-.6zM222.95 124.1h.6V127.8h-.6zM223.45 123.2h.6V125.0h-.6zM223.95 121.7h.6V125.0h-.6zM224.45 121.3h.6V124.0h-.6zM224.95 120.6h.6V123.8h-.6zM225.45 120.6h.6V123.5h-.6zM225.95 121.7h.6V125.9h-.6zM226.45 124.1h.6V128.0h-.6zM226.95 126.2h.6V129.4h-.6zM227.45 128.4h.6V131.8h-.6zM227.95 129.9h.6V134.2h-.6zM228.45 132.4h.6V136.9h-.6zM228.95 136.1h.6V139.8h-.6zM229.45 138.9h.6V144.8h-.6zM229.95 143.4h.6V147.5h-.6zM230.45 144.5h.6V147.7h-.6zM230.95 144.5h.6V149.5h-.6zM231.45 147.5h.6V152.5h-.6zM231.95 150.6h.6V156.1h-.6zM232.45 152.2h.6V157.0h-.6zM232.95 154.1h.6V162.2h-.6zM233.45 155.7h.6V162.1h-.6zM233.95 160.4h.6V166.5h-.6zM234.45 163.3h.6V168.6h-.6zM234.95 167.0h.6V173.3h-.6zM235.45 168.7h.6V176.0h-.6zM235.95 169.1h.6V182.4h-.6zM236.45 175.9h.6V183.5h-.6zM236.95 177.5h.6V184.4h-.6zM237.45 179.2h.6V184.0h-.6zM237.95 181.8h.6V190.4h-.6zM238.45 186.6h.6V194.1h-.6zM238.95 187.9h.6V195.8h-.6zM239.45 189.3h.6V199.2h-.6zM239.95 191.4h.6V199.2h-.6zM240.45 192.0h.6V203.7h-.6zM240.95 194.7h.6V202.3h-.6zM241.45 194.7h.6V208.4h-.6zM241.95 201.5h.6V209.0h-.6zM242.45 201.5h.6V207.2h-.6zM242.95 201.9h.6V209.5h-.6zM243.45 201.9h.6V214.8h-.6zM243.95 204.8h.6V214.8h-.6zM244.45 210.0h.6V222.4h-.6zM244.95 207.6h.6V218.8h-.6zM245.45 210.6h.6V218.8h-.6zM245.95 204.3h.6V223.4h-.6zM246.45 209.4h.6V227.8h-.6zM246.95 213.3h.6V227.8h-.6zM247.45 212.6h.6V229.1h-.6zM247.95 216.3h.6V234.6h-.6zM248.45 216.3h.6V229.1h-.6zM248.95 219.7h.6V237.9h-.6zM249.45 220.7h.6V241.7h-.6zM249.95 220.7h.6V239.8h-.6zM250.45 222.6h.6V241.7h-.6zM250.95 224.7h.6V239.8h-.6zM251.45 223.7h.6V239.8h-.6zM251.95 229.5h.6V237.9h-.6zM252.45 227.0h.6V262.1h-.6zM252.95 228.3h.6V262.1h-.6zM253.45 229.5h.6V251.4h-.6zM253.95 235.4h.6V241.7h-.6zM254.45 235.4h.6V258.1h-.6zM254.95 228.3h.6V266.9h-.6zM255.45 243.0h.6V272.8h-.6zM255.95 245.3h.6V266.9h-.6zM256.45 250.6h.6V272.8h-.6zM256.95 250.6h.6V272.8h-.6zM257.45 257.3h.6V315.0h-.6zM257.95 253.7h.6V291.1h-.6zM258.45 266.1h.6V309.4h-.6zM258.95 257.3h.6V291.1h-.6zM259.45 266.1h.6V309.4h-.6zM259.95 279.6h.6V309.4h-.6zM183.22 280.0h0.55V315.0h-0.55zM260.03 309.0h0.55V315.0h-0.55z"/>
<path fill="#dc143c" d="M80.45 185.5h.6V198.1h-.6zM80.95 183.4h.6V190.7h-.6zM81.45 175.9h.6V184.2h-.6zM81.95 168.1h.6V181.2h-.6zM82.45 164.1h.6V173.3h-.6zM82.95 154.2h.6V164.9h-.6zM83.45 149.4h.6V159.5h-.6zM83.95 149.3h.6V155.8h-.6zM84.45 150.2h.6V162.7h-.6zM84.95 154.6h.6V165.9h-.6zM85.45 157.7h.6V163.6h-.6zM85.95 162.1h.6V170.0h-.6zM86.45 165.0h.6V173.0h-.6zM86.95 165.9h.6V173.0h-.6zM87.45 166.8h.6V175.6h-.6zM87.95 171.1h.6V177.9h-.6zM88.45 170.4h.6V183.1h-.6zM88.95 170.4h.6V181.8h-.6zM89.45 171.1h.6V181.8h-.6zM89.95 171.6h.6V183.1h-.6zM90.45 171.6h.6V181.0h-.6zM90.95 172.8h.6V179.8h-.6zM91.45 173.5h.6V181.4h-.6zM91.95 174.7h.6V181.4h-.6zM92.45 176.0h.6V183.3h-.6zM92.95 173.9h.6V187.4h-.6zM93.45 179.4h.6V192.2h-.6zM93.95 177.6h.6V192.2h-.6zM94.45 177.6h.6V190.1h-.6zM94.95 173.4h.6V187.1h-.6zM95.45 175.2h.6V187.1h-.6zM95.95 177.5h.6V187.6h-.6zM96.45 176.0h.6V186.8h-.6zM96.95 180.2h.6V186.3h-.6zM97.45 181.0h.6V187.1h-.6zM97.95 180.6h.6V187.1h-.6zM98.45 180.6h.6V193.8h-.6zM98.95 182.5h.6V188.1h-.6zM99.45 178.4h.6V188.1h-.6zM99.95 182.7h.6V192.8h-.6zM100.45 179.6h.6V194.1h-.6zM100.95 179.6h.6V191.0h-.6zM101.45 181.2h.6V190.1h-.6zM101.95 181.2h.6V192.5h-.6zM102.45 184.8h.6V197.7h-.6zM102.95 185.3h.6V195.8h-.6zM103.45 184.3h.6V193.1h-.6zM103.95 185.8h.6V191.9h-.6zM104.45 187.3h.6V198.8h-.6zM104.95 180.6h.6V198.1h-.6zM105.45 190.5h.6V196.9h-.6zM105.95 190.8h.6V196.5h-.6zM106.45 186.6h.6V194.1h-.6zM106.95 186.0h.6V197.7h-.6zM107.45 186.0h.6V196.5h-.6zM107.95 188.7h.6V196.5h-.6zM108.45 182.7h.6V196.5h-.6zM108.95 187.3h.6V199.7h-.6zM109.45 186.6h.6V193.4h-.6zM109.95 190.2h.6V199.2h-.6zM110.45 190.2h.6V197.3h-.6zM110.95 186.3h.6V194.8h-.6zM111.45 186.3h.6V195.8h-.6zM111.95 186.3h.6V195.5h-.6zM112.45 187.1h.6V200.9h-.6zM112.95 187.1h.6V196.2h-.6zM113.45 190.2h.6V200.9h-.6zM113.95 187.6h.6V201.8h-.6zM114.45 187.6h.6V196.9h-.6zM114.95 190.5h.6V199.2h-.6zM115.45 188.4h.6V198.4h-.6zM115.95 187.3h.6V199.7h-.6zM116.45 187.3h.6V205.1h-.6zM116.95 192.3h.6V205.1h-.6zM117.45 187.9h.6V200.9h-.6zM117.95 191.1h.6V203.7h-.6zM118.45 191.1h.6V196.9h-.6zM118.95 189.6h.6V207.2h-.6zM119.45 189.6h.6V212.7h-.6zM119.95 192.3h.6V207.2h-.6zM120.45 189.6h.6V207.2h-.6zM120.95 191.7h.6V200.9h-.6zM121.45 191.7h.6V204.1h-.6zM121.95 192.3h.6V200.5h-.6zM122.45 192.3h.6V200.5h-.6zM122.95 190.8h.6V204.6h-.6zM123.45 192.3h.6V202.7h-.6zM123.95 194.0h.6V205.6h-.6zM124.45 194.0h.6V205.1h-.6zM124.95 194.0h.6V204.1h-.6zM125.45 194.3h.6V202.7h-.6zM125.95 193.3h.6V211.4h-.6zM126.45 192.3h.6V203.7h-.6zM126.95 194.3h.6V206.7h-.6zM127.45 194.0h.6V206.7h-.6zM127.95 196.1h.6V203.7h-.6zM128.45 189.3h.6V203.2h-.6zM128.95 192.6h.6V205.1h-.6zM129.45 192.6h.6V205.1h-.6zM129.95 195.7h.6V208.4h-.6zM130.45 195.7h.6V208.4h-.6zM130.95 195.0h.6V200.5h-.6zM131.45 194.7h.6V206.2h-.6zM131.95 192.3h.6V210.8h-.6zM132.45 194.7h.6V203.7h-.6zM132.95 193.0h.6V203.2h-.6zM133.45 193.0h.6V203.7h-.6zM133.95 198.0h.6V204.1h-.6zM134.45 195.0h.6V205.6h-.6zM134.95 197.3h.6V209.0h-.6zM135.45 196.9h.6V207.2h-.6zM135.95 198.0h.6V212.1h-.6zM136.45 195.7h.6V210.2h-.6zM136.95 194.0h.6V207.2h-.6zM137.45 195.7h.6V205.6h-.6zM137.95 199.7h.6V210.2h-.6zM138.45 201.5h.6V207.8h-.6zM138.95 196.1h.6V207.8h-.6zM139.45 197.6h.6V206.7h-.6zM139.95 193.3h.6V211.4h-.6zM140.45 195.4h.6V204.1h-.6zM140.95 197.6h.6V211.4h-.6zM141.45 196.5h.6V211.4h-.6zM141.95 194.3h.6V206.7h-.6zM142.45 196.9h.6V206.2h-.6zM142.95 194.7h.6V207.2h-.6zM143.45 197.6h.6V204.1h-.6zM143.95 198.0h.6V207.2h-.6zM144.45 197.6h.6V208.4h-.6zM144.95 195.4h.6V209.5h-.6zM145.45 194.7h.6V207.2h-.6zM145.95 197.3h.6V209.5h-.6zM146.45 193.0h.6V207.8h-.6zM146.95 198.9h.6V212.1h-.6zM147.45 197.3h.6V207.8h-.6zM147.95 193.0h.6V206.7h-.6zM148.45 194.0h.6V203.7h-.6zM148.95 198.9h.6V209.0h-.6zM149.45 196.9h.6V205.1h-.6zM149.95 200.1h.6V210.8h-.6zM150.45 197.3h.6V204.6h-.6zM150.95 197.3h.6V206.2h-.6zM151.45 196.1h.6V209.0h-.6zM151.95 196.5h.6V209.0h-.6zM152.45 196.9h.6V205.1h-.6zM152.95 196.1h.6V210.2h-.6zM153.45 202.9h.6V209.5h-.6zM153.95 200.1h.6V205.6h-.6zM154.45 197.6h.6V206.7h-.6zM154.95 195.4h.6V205.1h-.6zM155.45 193.0h.6V205.6h-.6zM155.95 196.1h.6V204.1h-.6zM156.45 194.3h.6V206.7h-.6zM156.95 197.6h.6V204.1h-.6zM157.45 196.5h.6V211.4h-.6zM157.95 198.0h.6V210.8h-.6zM158.45 190.8h.6V206.7h-.6zM158.95 194.3h.6V212.1h-.6zM159.45 192.0h.6V204.1h-.6zM159.95 192.0h.6V207.2h-.6zM160.45 195.0h.6V208.4h-.6zM160.95 194.3h.6V207.2h-.6zM161.45 191.7h.6V211.4h-.6zM161.95 197.6h.6V211.4h-.6zM162.45 197.6h.6V206.2h-.6zM162.95 195.4h.6V205.1h-.6zM163.45 198.0h.6V209.5h-.6zM163.95 197.6h.6V205.1h-.6zM164.45 194.7h.6V210.2h-.6zM164.95 195.4h.6V202.3h-.6zM165.45 195.4h.6V200.9h-.6zM165.95 192.6h.6V208.4h-.6zM166.45 192.6h.6V203.2h-.6zM166.95 193.6h.6V203.7h-.6zM167.45 196.9h.6V209.0h-.6zM167.95 198.0h.6V210.8h-.6zM168.45 197.6h.6V209.5h-.6zM168.95 197.3h.6V207.2h-.6zM169.45 191.4h.6V207.2h-.6zM169.95 198.0h.6V207.2h-.6zM170.45 200.1h.6V207.8h-.6zM170.95 194.7h.6V212.1h-.6zM171.45 194.3h.6V207.2h-.6zM171.95 194.7h.6V203.2h-.6zM172.45 194.0h.6V206.2h-.6zM172.95 196.1h.6V203.7h-.6zM173.45 198.0h.6V204.1h-.6zM173.95 192.0h.6V205.6h-.6zM174.45 198.9h.6V207.8h-.6zM174.95 194.7h.6V207.8h-.6zM175.45 195.4h.6V204.1h-.6zM175.95 196.1h.6V203.7h-.6zM176.45 194.7h.6V204.1h-.6zM176.95 194.7h.6V203.7h-.6zM177.45 195.4h.6V206.2h-.6zM177.95 196.9h.6V204.6h-.6zM178.45 197.3h.6V210.2h-.6zM178.95 199.7h.6V209.5h-.6zM179.45 192.3h.6V207.2h-.6zM179.95 194.0h.6V206.7h-.6zM180.45 188.4h.6V202.3h-.6zM180.95 193.6h.6V209.5h-.6zM181.45 195.7h.6V209.5h-.6zM181.95 192.6h.6V204.6h-.6zM182.45 192.6h.6V201.8h-.6zM182.95 195.4h.6V205.6h-.6zM183.45 192.6h.6V205.6h-.6zM183.95 195.4h.6V210.2h-.6zM184.45 194.0h.6V206.7h-.6zM184.95 195.7h.6V206.7h-.6zM185.45 193.3h.6V204.6h-.6zM185.95 193.0h.6V207.8h-.6zM186.45 195.0h.6V203.7h-.6zM186.95 191.4h.6V206.2h-.6zM187.45 196.9h.6V202.3h-.6zM187.95 190.5h.6V205.1h-.6zM188.45 191.1h.6V201.8h-.6zM188.95 192.6h.6V206.2h-.6zM189.45 196.9h.6V206.7h-.6zM189.95 195.7h.6V205.1h-.6zM190.45 191.7h.6V209.0h-.6zM190.95 196.5h.6V201.4h-.6zM191.45 197.6h.6V207.8h-.6zM191.95 196.9h.6V204.1h-.6zM192.45 194.3h.6V204.1h-.6zM192.95 193.6h.6V205.1h-.6zM193.45 195.0h.6V201.4h-.6zM193.95 194.7h.6V201.8h-.6zM194.45 192.0h.6V208.4h-.6zM194.95 192.0h.6V206.2h-.6zM195.45 192.6h.6V203.2h-.6zM195.95 192.6h.6V203.2h-.6zM196.45 189.9h.6V204.6h-.6zM196.95 196.1h.6V202.3h-.6zM197.45 190.2h.6V205.6h-.6zM197.95 198.4h.6V204.6h-.6zM198.45 194.7h.6V206.7h-.6zM198.95 193.0h.6V206.7h-.6zM199.45 195.4h.6V202.7h-.6zM199.95 195.4h.6V204.1h-.6zM200.45 192.0h.6V204.1h-.6zM200.95 195.7h.6V207.2h-.6zM201.45 199.3h.6V203.7h-.6zM201.95 198.0h.6V207.8h-.6zM202.45 198.0h.6V207.2h-.6zM202.95 186.3h.6V205.6h-.6zM203.45 194.3h.6V208.4h-.6zM203.95 191.4h.6V206.2h-.6zM204.45 196.9h.6V211.4h-.6zM204.95 192.0h.6V204.6h-.6zM205.45 193.0h.6V205.6h-.6zM205.95 193.0h.6V210.8h-.6zM206.45 195.7h.6V207.2h-.6zM206.95 193.0h.6V207.2h-.6zM207.45 195.4h.6V202.7h-.6zM207.95 192.3h.6V207.8h-.6zM208.45 194.0h.6V204.6h-.6zM208.95 193.0h.6V204.6h-.6zM209.45 190.8h.6V204.1h-.6zM209.95 195.4h.6V209.0h-.6zM210.45 193.3h.6V209.0h-.6zM210.95 193.3h.6V202.3h-.6zM211.45 193.0h.6V202.3h-.6zM211.95 196.5h.6V202.7h-.6zM212.45 194.7h.6V204.1h-.6zM212.95 190.8h.6V202.7h-.6zM213.45 195.0h.6V203.7h-.6zM213.95 193.3h.6V206.2h-.6zM214.45 195.7h.6V202.3h-.6zM214.95 195.7h.6V203.7h-.6zM215.45 191.4h.6V201.4h-.6zM215.95 189.6h.6V201.4h-.6zM216.45 188.4h.6V201.4h-.6zM216.95 196.5h.6V202.7h-.6zM217.45 194.7h.6V203.7h-.6zM217.95 195.4h.6V201.8h-.6zM218.45 191.7h.6V205.1h-.6zM218.95 193.6h.6V206.7h-.6zM219.45 191.7h.6V204.1h-.6zM219.95 189.3h.6V199.2h-.6zM220.45 190.8h.6V200.9h-.6zM220.95 189.3h.6V205.6h-.6zM221.45 192.0h.6V201.4h-.6zM221.95 189.0h.6V204.1h-.6zM222.45 189.3h.6V205.1h-.6zM222.95 193.3h.6V210.8h-.6zM223.45 193.3h.6V202.7h-.6zM223.95 190.8h.6V202.7h-.6zM224.45 192.3h.6V200.9h-.6zM224.95 193.0h.6V206.7h-.6zM225.45 189.3h.6V200.1h-.6zM225.95 193.6h.6V201.4h-.6zM226.45 190.5h.6V201.4h-.6zM226.95 190.5h.6V205.6h-.6zM227.45 195.4h.6V204.6h-.6zM227.95 189.9h.6V200.5h-.6zM228.45 194.3h.6V200.1h-.6zM228.95 190.5h.6V206.7h-.6zM229.45 190.2h.6V203.2h-.6zM229.95 192.3h.6V203.2h-.6zM230.45 195.4h.6V202.7h-.6zM230.95 186.0h.6V199.7h-.6zM231.45 190.8h.6V199.7h-.6zM231.95 189.3h.6V203.2h-.6zM232.45 188.4h.6V202.3h-.6zM232.95 188.4h.6V198.1h-.6zM233.45 193.6h.6V200.1h-.6zM233.95 191.7h.6V205.1h-.6zM234.45 194.0h.6V200.9h-.6zM234.95 193.0h.6V206.2h-.6zM235.45 187.6h.6V199.7h-.6zM235.95 193.0h.6V204.1h-.6zM236.45 191.7h.6V202.3h-.6zM236.95 191.7h.6V195.1h-.6zM237.45 187.1h.6V201.8h-.6zM237.95 188.2h.6V204.6h-.6zM238.45 189.6h.6V201.4h-.6zM238.95 191.4h.6V202.7h-.6zM239.45 190.5h.6V198.8h-.6zM239.95 193.3h.6V198.8h-.6zM240.45 187.9h.6V201.8h-.6zM240.95 184.6h.6V201.4h-.6zM241.45 184.6h.6V201.8h-.6zM241.95 187.3h.6V199.7h-.6zM242.45 193.3h.6V200.5h-.6zM242.95 193.6h.6V201.4h-.6zM243.45 192.0h.6V201.4h-.6zM243.95 189.0h.6V203.2h-.6zM244.45 189.0h.6V196.9h-.6zM244.95 189.3h.6V202.3h-.6zM245.45 190.2h.6V202.7h-.6zM245.95 190.2h.6V205.6h-.6zM246.45 190.8h.6V205.6h-.6zM246.95 190.2h.6V200.9h-.6zM247.45 187.1h.6V199.7h-.6zM247.95 192.3h.6V203.7h-.6zM248.45 192.6h.6V199.2h-.6zM248.95 190.2h.6V198.4h-.6zM249.45 189.9h.6V201.8h-.6zM249.95 191.1h.6V204.1h-.6zM250.45 188.2h.6V201.4h-.6zM250.95 188.2h.6V198.1h-.6zM251.45 188.7h.6V200.5h-.6zM251.95 191.7h.6V199.7h-.6zM252.45 190.5h.6V202.7h-.6zM252.95 189.3h.6V194.8h-.6zM253.45 185.0h.6V196.5h-.6zM253.95 190.8h.6V203.2h-.6zM254.45 188.2h.6V197.7h-.6zM254.95 187.9h.6V204.1h-.6zM255.45 185.0h.6V204.1h-.6zM255.95 185.0h.6V200.1h-.6zM256.45 187.9h.6V206.7h-.6zM256.95 188.2h.6V206.7h-.6zM257.45 185.5h.6V198.8h-.6zM257.95 184.6h.6V196.2h-.6zM258.45 189.9h.6V196.2h-.6zM258.95 186.0h.6V198.8h-.6zM259.45 185.3h.6V198.8h-.6zM259.95 185.3h.6V194.8h-.6zM260.45 189.0h.6V199.7h-.6zM260.95 184.3h.6V192.2h-.6zM261.45 188.7h.6V193.4h-.6zM261.95 185.8h.6V193.1h-.6zM262.45 187.3h.6V204.1h-.6zM262.95 186.6h.6V198.1h-.6zM263.45 188.7h.6V196.9h-.6zM263.95 185.5h.6V196.2h-.6zM264.45 185.8h.6V193.4h-.6zM264.95 185.5h.6V194.4h-.6zM265.45 188.7h.6V195.5h-.6zM265.95 184.8h.6V200.9h-.6zM266.45 184.6h.6V200.9h-.6zM266.95 183.6h.6V195.1h-.6zM267.45 183.6h.6V196.9h-.6zM267.95 184.1h.6V196.9h-.6zM268.45 182.7h.6V193.8h-.6zM268.95 183.9h.6V199.7h-.6zM269.45 183.4h.6V196.5h-.6zM269.95 184.6h.6V194.1h-.6zM270.45 187.6h.6V195.5h-.6zM270.95 184.1h.6V194.1h-.6zM271.45 185.5h.6V201.4h-.6zM271.95 185.5h.6V196.9h-.6zM272.45 188.4h.6V194.1h-.6zM272.95 182.3h.6V191.9h-.6zM273.45 182.9h.6V191.9h-.6zM273.95 179.0h.6V188.4h-.6zM274.45 182.9h.6V195.8h-.6zM274.95 181.4h.6V191.6h-.6zM275.45 182.5h.6V190.7h-.6zM275.95 180.0h.6V192.5h-.6zM276.45 179.2h.6V190.4h-.6zM276.95 178.4h.6V187.4h-.6zM277.45 182.0h.6V190.4h-.6zM277.95 179.6h.6V187.1h-.6zM278.45 178.8h.6V187.6h-.6zM278.95 177.3h.6V187.6h-.6zM279.45 178.4h.6V192.5h-.6zM279.95 179.0h.6V183.1h-.6zM280.45 177.8h.6V184.0h-.6zM280.95 176.2h.6V183.1h-.6zM281.45 174.8h.6V182.6h-.6zM281.95 179.2h.6V185.1h-.6zM282.45 177.3h.6V187.4h-.6zM282.95 174.0h.6V186.6h-.6zM283.45 176.0h.6V186.6h-.6zM283.95 176.4h.6V182.0h-.6zM284.45 176.9h.6V183.5h-.6zM284.95 174.0h.6V185.8h-.6zM285.45 171.4h.6V182.4h-.6zM285.95 174.5h.6V180.4h-.6zM286.45 172.6h.6V181.2h-.6zM286.95 172.6h.6V179.4h-.6zM287.45 172.5h.6V182.8h-.6zM287.95 170.3h.6V178.1h-.6zM288.45 172.0h.6V178.3h-.6zM288.95 172.3h.6V180.8h-.6zM289.45 170.8h.6V177.9h-.6zM289.95 172.0h.6V177.4h-.6zM290.45 168.1h.6V177.5h-.6zM290.95 167.9h.6V181.6h-.6zM291.45 172.2h.6V181.6h-.6zM291.95 165.9h.6V177.2h-.6zM292.45 168.1h.6V176.7h-.6zM292.95 163.7h.6V174.8h-.6zM293.45 167.6h.6V173.7h-.6zM293.95 167.0h.6V175.1h-.6zM294.45 166.4h.6V175.1h-.6zM294.95 166.4h.6V176.5h-.6zM295.45 161.8h.6V171.9h-.6zM295.95 162.3h.6V170.7h-.6zM296.45 161.2h.6V171.1h-.6zM296.95 160.7h.6V171.1h-.6zM297.45 160.7h.6V168.7h-.6zM297.95 159.5h.6V168.4h-.6zM298.45 157.2h.6V165.0h-.6zM298.95 159.2h.6V165.1h-.6zM299.45 153.9h.6V161.8h-.6zM299.95 154.9h.6V161.8h-.6zM300.45 151.5h.6V161.7h-.6zM300.95 150.5h.6V158.3h-.6zM301.45 148.7h.6V158.4h-.6zM301.95 144.8h.6V155.1h-.6zM302.45 143.7h.6V152.4h-.6zM302.95 142.6h.6V151.6h-.6zM303.45 145.6h.6V153.8h-.6zM303.95 146.8h.6V153.8h-.6zM304.45 152.7h.6V160.4h-.6zM304.95 153.9h.6V160.4h-.6zM80.32 188.3h0.55V315.0h-0.55zM304.93 154.3h0.55V315.0h-0.55z"/>
<path fill="#a52a2a" d="M218.95 116.7h.6V125.5h-.6zM219.45 109.2h.6V117.5h-.6zM219.95 102.0h.6V110.0h-.6zM220.45 97.0h.6V102.8h-.6zM220.95 90.4h.6V97.8h-.6zM221.45 87.1h.6V91.3h-.6zM221.95 83.1h.6V87.9h-.6zM222.45 81.7h.6V84.3h-.6zM222.95 80.2h.6V82.5h-.6zM223.45 80.5h.6V82.1h-.6zM223.95 81.3h.6V85.5h-.6zM224.45 84.7h.6V91.9h-.6zM224.95 91.1h.6V100.7h-.6zM225.45 99.9h.6V112.3h-.6zM225.95 111.5h.6V124.6h-.6zM226.45 123.8h.6V129.3h-.6zM218.82 125.1h0.55V315.0h-0.55zM226.32 128.9h0.55V315.0h-0.55z"/>
<path fill="#808080" d="M197.45 209.4h.6V217.9h-.6zM197.95 209.4h.6V218.8h-.6zM198.45 203.8h.6V218.8h-.6zM198.95 196.1h.6V211.4h-.6zM199.45 164.0h.6V198.4h-.6zM199.95 144.3h.6V166.6h-.6zM200.45 125.1h.6V145.1h-.6zM200.95 119.1h.6V125.9h-.6zM201.45 114.8h.6V119.9h-.6zM201.95 113.5h.6V115.9h-.6zM202.45 114.7h.6V118.5h-.6zM202.95 117.0h.6V122.2h-.6zM203.45 120.1h.6V123.6h-.6zM203.95 121.7h.6V127.2h-.6zM204.45 124.4h.6V128.7h-.6zM204.95 126.2h.6V129.0h-.6zM205.45 128.0h.6V131.0h-.6zM205.95 129.0h.6V133.7h-.6zM206.45 129.6h.6V134.3h-.6zM206.95 131.1h.6V136.0h-.6zM207.45 132.2h.6V136.0h-.6zM207.95 131.9h.6V135.2h-.6zM208.45 132.2h.6V134.0h-.6zM208.95 132.6h.6V134.9h-.6zM209.45 132.3h.6V136.0h-.6zM209.95 131.1h.6V135.5h-.6zM210.45 131.7h.6V134.1h-.6zM210.95 131.8h.6V135.6h-.6zM211.45 132.0h.6V134.3h-.6zM211.95 130.8h.6V134.3h-.6zM212.45 129.3h.6V131.7h-.6zM212.95 128.6h.6V131.6h-.6zM213.45 127.2h.6V130.7h-.6zM213.95 126.0h.6V129.1h-.6zM214.45 124.1h.6V127.9h-.6zM214.95 121.6h.6V125.6h-.6zM215.45 119.4h.6V122.4h-.6zM215.95 115.7h.6V120.3h-.6zM216.45 115.7h.6V120.3h-.6zM197.53 217.5h0.55V315.0h-0.55z"/>
</g>
<path stroke="#000" stroke-width="0.6" fill="none" d="M18.50 313.9v-2.2M18.50 5v2.2M58.12 313.9v-2.2M58.12 5v2.2M97.75 313.9v-2.2M97.75 5v2.2M137.38 313.9v-2.2M137.38 5v2.2M177.00 313.9v-2.2M177.00 5v2.2M216.62 313.9v-2.2M216.62 5v2.2M256.25 313.9v-2.2M256.25 5v2.2M295.88 313.9v-2.2M295.88 5v2.2M335.50 313.9v-2.2M335.50 5v2.2M18.5 309.00h2.2M335.5 309.00h-2.2M18.5 290.71h1.2M335.5 290.71h-1.2M18.5 280.01h1.2M335.5 280.01h-1.2M18.5 272.42h1.2M335.5 272.42h-1.2M18.5 266.53h1.2M335.5 266.53h-1.2M18.5 261.72h1.2M335.5 261.72h-1.2M18.5 257.65h1.2M335.5 257.65h-1.2M18.5 254.13h1.2M335.5 254.13h-1.2M18.5 251.02h1.2M335.5 251.02h-1.2M18.5 248.24h2.2M335.5 248.24h-2.2M18.5 229.95h1.2M335.5 229.95h-1.2M18.5 219.25h1.2M335.5 219.25h-1.2M18.5 211.66h1.2M335.5 211.66h-1.2M18.5 205.77h1.2M335.5 205.77h-1.2M18.5 200.96h1.2M335.5 200.96h-1.2M18.5 196.89h1.2M335.5 196.89h-1.2M18.5 193.37h1.2M335.5 193.37h-1.2M18.5 190.26h1.2M335.5 190.26h-1.2M18.5 187.48h2.2M335.5 187.48h-2.2M18.5 169.19h1.2M335.5 169.19h-1.2M18.5 158.49h1.2M335.5 158.49h-1.2M18.5 150.90h1.2M335.5 150.90h-1.2M18.5 145.01h1.2M335.5 145.01h-1.2M18.5 140.20h1.2M335.5 140.20h-1.2M18.5 136.13h1.2M335.5 136.13h-1.2M18.5 132.61h1.2M335.5 132.61h-1.2M18.5 129.50h1.2M335.5 129.50h-1.2M18.5 126.72h2.2M335.5 126.72h-2.2M18.5 108.43h1.2M335.5 108.43h-1.2M18.5 97.73h1.2M335.5 97.73h-1.2M18.5 90.14h1.2M335.5 90.14h-1.2M18.5 84.25h1.2M335.5 84.25h-1.2M18.5 79.44h1.2M335.5 79.44h-1.2M18.5 75.37h1.2M335.5 75.37h-1.2M18.5 71.85h1.2M335.5 71.85h-1.2M18.5 68.74h1.2M335.5 68.74h-1.2M18.5 65.96h2.2M335.5 65.96h-2.2M18.5 47.67h1.2M335.5 47.67h-1.2M18.5 36.97h1.2M335.5 36.97h-1.2M18.5 29.38h1.2M335.5 29.38h-1.2M18.5 23.49h1.2M335.5 23.49h-1.2M18.5 18.68h1.2M335.5 18.68h-1.2M18.5 14.61h1.2M335.5 14.61h-1.2M18.5 11.09h1.2M335.5 11.09h-1.2M18.5 7.98h1.2M335.5 7.98h-1.2M18.5 5.20h2.2M335.5 5.20h-2.2"/>
<rect x="18.5" y="5" width="317" height="308.9" fill="none" stroke="#000" stroke-width="1.2"/>
<rect x="21.3" y="7.4" width="49.9" height="127.6" rx="1.5" fill="#fff" fill-opacity="0.8" stroke="#ccc" stroke-width="0.8"/>
<rect x="23.6" y="10.30" width="11.4" height="4.2" fill="none" stroke="#ff0000" stroke-width="1" stroke-opacity="0.8"/>
<text x="39.5" y="14.30" font-size="6.2" fill="#111" stroke="#111" stroke-width="0.12">AG Per</text>
<rect x="23.6" y="18.61" width="11.4" height="4.2" fill="none" stroke="#ffa500" stroke-width="1" stroke-opacity="0.8"/>
<text x="39.5" y="22.61" font-size="6.2" fill="#111" stroke="#111" stroke-width="0.12">DI Her</text>
<rect x="23.6" y="26.92" width="11.4" height="4.2" fill="none" stroke="#ffd700" stroke-width="1" stroke-opacity="0.8"/>
<text x="39.5" y="30.92" font-size="6.2" fill="#111" stroke="#111" stroke-width="0.12">EM Car</text>
<rect x="23.6" y="35.23" width="11.4" height="4.2" fill="none" stroke="#9acd32" stroke-width="1" stroke-opacity="0.8"/>
<text x="39.5" y="39.23" font-size="6.2" fill="#111" stroke="#111" stroke-width="0.12">IQ Per</text>
<rect x="23.6" y="43.54" width="11.4" height="4.2" fill="none" stroke="#008000" stroke-width="1" stroke-opacity="0.8"/>
<text x="39.5" y="47.54" font-size="6.2" fill="#111" stroke="#111" stroke-width="0.12">QX Car</text>
<rect x="23.6" y="51.85" width="11.4" height="4.2" fill="none" stroke="#40e0d0" stroke-width="1" stroke-opacity="0.8"/>
<text x="39.5" y="55.85" font-size="6.2" fill="#111" stroke="#111" stroke-width="0.12">V1647 Sgr</text>
<rect x="23.6" y="60.16" width="11.4" height="4.2" fill="none" stroke="#00ffff" stroke-width="1" stroke-opacity="0.8"/>
<text x="39.5" y="64.16" font-size="6.2" fill="#111" stroke="#111" stroke-width="0.12">V526 Sgr</text>
<rect x="23.6" y="68.47" width="11.4" height="4.2" fill="none" stroke="#1e90ff" stroke-width="1" stroke-opacity="0.8"/>
<text x="39.5" y="72.47" font-size="6.2" fill="#111" stroke="#111" stroke-width="0.12">Y Cyg</text>
<rect x="23.6" y="76.78" width="11.4" height="4.2" fill="none" stroke="#000088" stroke-width="1" stroke-opacity="0.8"/>
<text x="39.5" y="80.78" font-size="6.2" fill="#111" stroke="#111" stroke-width="0.12">CW Cep</text>
<rect x="23.6" y="85.09" width="11.4" height="4.2" fill="none" stroke="#9370db" stroke-width="1" stroke-opacity="0.8"/>
<text x="39.5" y="89.09" font-size="6.2" fill="#111" stroke="#111" stroke-width="0.12">DR Vul</text>
<rect x="23.6" y="93.40" width="11.4" height="4.2" fill="none" stroke="#ee82ee" stroke-width="1" stroke-opacity="0.8"/>
<text x="39.5" y="97.40" font-size="6.2" fill="#111" stroke="#111" stroke-width="0.12">GG Lup</text>
<rect x="23.6" y="101.71" width="11.4" height="4.2" fill="none" stroke="#800080" stroke-width="1" stroke-opacity="0.8"/>
<text x="39.5" y="105.71" font-size="6.2" fill="#111" stroke="#111" stroke-width="0.12">U Oph</text>
<rect x="23.6" y="110.02" width="11.4" height="4.2" fill="none" stroke="#dc143c" stroke-width="1" stroke-opacity="0.8"/>
<text x="39.5" y="114.02" font-size="6.2" fill="#111" stroke="#111" stroke-width="0.12">V478 Cyg</text>
<rect x="23.6" y="118.33" width="11.4" height="4.2" fill="none" stroke="#a52a2a" stroke-width="1" stroke-opacity="0.8"/>
<text x="39.5" y="122.33" font-size="6.2" fill="#111" stroke="#111" stroke-width="0.12">V760 Sco</text>
<rect x="23.6" y="126.64" width="11.4" height="4.2" fill="none" stroke="#808080" stroke-width="1" stroke-opacity="0.8"/>
<text x="39.5" y="130.64" font-size="6.2" fill="#111" stroke="#111" stroke-width="0.12">ζ Phe</text>
<text x="18.50" y="323.7" font-size="8.6" text-anchor="middle" textLength="36.0" lengthAdjust="spacingAndGlyphs">−0.0020</text>
<text x="58.12" y="323.7" font-size="8.6" text-anchor="middle" textLength="36.0" lengthAdjust="spacingAndGlyphs">−0.0015</text>
<text x="97.75" y="323.7" font-size="8.6" text-anchor="middle" textLength="36.0" lengthAdjust="spacingAndGlyphs">−0.0010</text>
<text x="137.38" y="323.7" font-size="8.6" text-anchor="middle" textLength="36.0" lengthAdjust="spacingAndGlyphs">−0.0005</text>
<text x="177.00" y="323.7" font-size="8.6" text-anchor="middle" textLength="28.6" lengthAdjust="spacingAndGlyphs">0.0000</text>
<text x="216.62" y="323.7" font-size="8.6" text-anchor="middle" textLength="28.6" lengthAdjust="spacingAndGlyphs">0.0005</text>
<text x="256.25" y="323.7" font-size="8.6" text-anchor="middle" textLength="28.6" lengthAdjust="spacingAndGlyphs">0.0010</text>
<text x="295.88" y="323.7" font-size="8.6" text-anchor="middle" textLength="28.6" lengthAdjust="spacingAndGlyphs">0.0015</text>
<text x="335.50" y="323.7" font-size="8.6" text-anchor="middle" textLength="28.6" lengthAdjust="spacingAndGlyphs">0.0020</text>
<text x="12.2" y="312.60" font-size="9.3" text-anchor="end" textLength="9.3" lengthAdjust="spacingAndGlyphs">10</text>
<text x="13.1" y="308.60" font-size="6.3">0</text>
<text x="12.2" y="251.84" font-size="9.3" text-anchor="end" textLength="9.3" lengthAdjust="spacingAndGlyphs">10</text>
<text x="13.1" y="247.84" font-size="6.3">1</text>
<text x="12.2" y="191.08" font-size="9.3" text-anchor="end" textLength="9.3" lengthAdjust="spacingAndGlyphs">10</text>
<text x="13.1" y="187.08" font-size="6.3">2</text>
<text x="12.2" y="130.32" font-size="9.3" text-anchor="end" textLength="9.3" lengthAdjust="spacingAndGlyphs">10</text>
<text x="13.1" y="126.32" font-size="6.3">3</text>
<text x="12.2" y="69.56" font-size="9.3" text-anchor="end" textLength="9.3" lengthAdjust="spacingAndGlyphs">10</text>
<text x="13.1" y="65.56" font-size="6.3">4</text>
<text x="12.2" y="8.80" font-size="9.3" text-anchor="end" textLength="9.3" lengthAdjust="spacingAndGlyphs">10</text>
<text x="13.1" y="4.80" font-size="6.3">5</text>
<text x="176.8" y="334.8" font-size="10" font-weight="bold" text-anchor="middle" textLength="106" lengthAdjust="spacingAndGlyphs" stroke="#000" stroke-width="0.25">Percent difference</text>
</svg>
</body></html>
